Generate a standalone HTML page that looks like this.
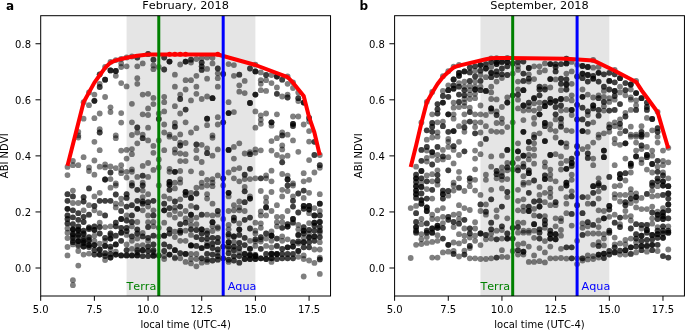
<!DOCTYPE html>
<html><head><meta charset="utf-8"><title>ABI NDVI vs local time</title>
<style>html,body{margin:0;padding:0;background:#fff;overflow:hidden}svg{display:block}text{font-kerning:none;font-family:"DejaVu Sans","Liberation Sans",sans-serif}</style>
</head><body>
<svg width="685" height="330" viewBox="0 0 685 330">
<defs><filter id="soft" x="-5%" y="-5%" width="110%" height="110%"><feGaussianBlur stdDeviation="0.35"/></filter></defs>
<rect width="685" height="330" fill="#fff"/>
<rect x="126.58" y="15.7" width="128.82" height="280.3" fill="#e5e5e5"/>
<g fill="#000" fill-opacity="0.5" filter="url(#soft)">
<circle cx="99.7" cy="74.3" r="2.9"/>
<circle cx="99.7" cy="74.3" r="2.9"/>
<circle cx="99.7" cy="83.8" r="2.9"/>
<circle cx="99.7" cy="87.0" r="2.9"/>
<circle cx="99.7" cy="87.0" r="2.9"/>
<circle cx="105.1" cy="67.0" r="2.9"/>
<circle cx="105.1" cy="79.7" r="2.9"/>
<circle cx="105.1" cy="79.7" r="2.9"/>
<circle cx="105.1" cy="79.7" r="2.9"/>
<circle cx="110.5" cy="61.9" r="2.9"/>
<circle cx="110.5" cy="70.4" r="2.9"/>
<circle cx="110.5" cy="70.4" r="2.9"/>
<circle cx="110.5" cy="70.4" r="2.9"/>
<circle cx="115.8" cy="60.1" r="2.9"/>
<circle cx="115.8" cy="71.0" r="2.9"/>
<circle cx="115.8" cy="71.0" r="2.9"/>
<circle cx="115.8" cy="71.0" r="2.9"/>
<circle cx="115.8" cy="75.8" r="2.9"/>
<circle cx="121.2" cy="58.8" r="2.9"/>
<circle cx="121.2" cy="63.4" r="2.9"/>
<circle cx="121.2" cy="67.0" r="2.9"/>
<circle cx="121.2" cy="83.1" r="2.9"/>
<circle cx="126.6" cy="57.5" r="2.9"/>
<circle cx="126.6" cy="66.3" r="2.9"/>
<circle cx="126.6" cy="86.4" r="2.9"/>
<circle cx="131.9" cy="56.5" r="2.9"/>
<circle cx="137.3" cy="57.5" r="2.9"/>
<circle cx="137.3" cy="57.5" r="2.9"/>
<circle cx="137.3" cy="66.3" r="2.9"/>
<circle cx="137.3" cy="78.2" r="2.9"/>
<circle cx="137.3" cy="83.8" r="2.9"/>
<circle cx="142.7" cy="63.4" r="2.9"/>
<circle cx="148.1" cy="53.9" r="2.9"/>
<circle cx="148.1" cy="53.9" r="2.9"/>
<circle cx="153.4" cy="59.7" r="2.9"/>
<circle cx="153.4" cy="59.7" r="2.9"/>
<circle cx="153.4" cy="65.5" r="2.9"/>
<circle cx="153.4" cy="69.2" r="2.9"/>
<circle cx="158.8" cy="67.0" r="2.9"/>
<circle cx="164.2" cy="57.5" r="2.9"/>
<circle cx="164.2" cy="57.5" r="2.9"/>
<circle cx="164.2" cy="69.5" r="2.9"/>
<circle cx="164.2" cy="69.5" r="2.9"/>
<circle cx="169.5" cy="61.6" r="2.9"/>
<circle cx="169.5" cy="61.6" r="2.9"/>
<circle cx="169.5" cy="61.6" r="2.9"/>
<circle cx="174.9" cy="74.7" r="2.9"/>
<circle cx="174.9" cy="86.7" r="2.9"/>
<circle cx="180.2" cy="64.5" r="2.9"/>
<circle cx="185.6" cy="61.6" r="2.9"/>
<circle cx="185.6" cy="61.6" r="2.9"/>
<circle cx="185.6" cy="61.6" r="2.9"/>
<circle cx="185.6" cy="80.2" r="2.9"/>
<circle cx="191.0" cy="59.7" r="2.9"/>
<circle cx="191.0" cy="59.7" r="2.9"/>
<circle cx="191.0" cy="62.6" r="2.9"/>
<circle cx="191.0" cy="80.2" r="2.9"/>
<circle cx="196.4" cy="59.0" r="2.9"/>
<circle cx="196.4" cy="75.8" r="2.9"/>
<circle cx="196.4" cy="86.7" r="2.9"/>
<circle cx="201.7" cy="58.2" r="2.9"/>
<circle cx="201.7" cy="62.6" r="2.9"/>
<circle cx="201.7" cy="62.6" r="2.9"/>
<circle cx="201.7" cy="66.3" r="2.9"/>
<circle cx="201.7" cy="66.3" r="2.9"/>
<circle cx="201.7" cy="69.9" r="2.9"/>
<circle cx="201.7" cy="69.9" r="2.9"/>
<circle cx="207.1" cy="57.5" r="2.9"/>
<circle cx="207.1" cy="68.9" r="2.9"/>
<circle cx="207.1" cy="78.7" r="2.9"/>
<circle cx="212.5" cy="57.8" r="2.9"/>
<circle cx="212.5" cy="63.4" r="2.9"/>
<circle cx="217.8" cy="68.5" r="2.9"/>
<circle cx="217.8" cy="68.5" r="2.9"/>
<circle cx="217.8" cy="73.3" r="2.9"/>
<circle cx="217.8" cy="78.2" r="2.9"/>
<circle cx="217.8" cy="86.7" r="2.9"/>
<circle cx="223.2" cy="73.9" r="2.9"/>
<circle cx="223.2" cy="73.9" r="2.9"/>
<circle cx="228.6" cy="64.1" r="2.9"/>
<circle cx="233.9" cy="65.1" r="2.9"/>
<circle cx="233.9" cy="75.8" r="2.9"/>
<circle cx="239.3" cy="74.7" r="2.9"/>
<circle cx="239.3" cy="74.7" r="2.9"/>
<circle cx="239.3" cy="85.3" r="2.9"/>
<circle cx="244.7" cy="80.9" r="2.9"/>
<circle cx="250.0" cy="68.5" r="2.9"/>
<circle cx="250.0" cy="68.5" r="2.9"/>
<circle cx="255.4" cy="71.4" r="2.9"/>
<circle cx="255.4" cy="71.4" r="2.9"/>
<circle cx="255.4" cy="71.4" r="2.9"/>
<circle cx="255.4" cy="64.7" r="2.9"/>
<circle cx="260.8" cy="72.4" r="2.9"/>
<circle cx="260.8" cy="80.2" r="2.9"/>
<circle cx="260.8" cy="83.8" r="2.9"/>
<circle cx="266.1" cy="75.0" r="2.9"/>
<circle cx="266.1" cy="75.0" r="2.9"/>
<circle cx="266.1" cy="80.2" r="2.9"/>
<circle cx="271.5" cy="75.0" r="2.9"/>
<circle cx="271.5" cy="83.1" r="2.9"/>
<circle cx="276.9" cy="76.5" r="2.9"/>
<circle cx="276.9" cy="76.5" r="2.9"/>
<circle cx="276.9" cy="76.5" r="2.9"/>
<circle cx="276.9" cy="87.5" r="2.9"/>
<circle cx="282.2" cy="79.7" r="2.9"/>
<circle cx="282.2" cy="79.7" r="2.9"/>
<circle cx="287.6" cy="83.8" r="2.9"/>
<circle cx="287.6" cy="76.5" r="2.9"/>
<circle cx="293.0" cy="82.3" r="2.9"/>
<circle cx="94.4" cy="94.6" r="2.9"/>
<circle cx="94.4" cy="100.8" r="2.9"/>
<circle cx="94.4" cy="100.8" r="2.9"/>
<circle cx="94.4" cy="100.8" r="2.9"/>
<circle cx="89.0" cy="105.2" r="2.9"/>
<circle cx="105.1" cy="97.0" r="2.9"/>
<circle cx="131.9" cy="103.8" r="2.9"/>
<circle cx="110.5" cy="107.3" r="2.9"/>
<circle cx="110.5" cy="112.1" r="2.9"/>
<circle cx="99.7" cy="113.5" r="2.9"/>
<circle cx="121.2" cy="113.1" r="2.9"/>
<circle cx="83.6" cy="118.7" r="2.9"/>
<circle cx="94.4" cy="118.2" r="2.9"/>
<circle cx="121.2" cy="122.6" r="2.9"/>
<circle cx="131.9" cy="122.3" r="2.9"/>
<circle cx="99.7" cy="129.2" r="2.9"/>
<circle cx="99.7" cy="132.5" r="2.9"/>
<circle cx="99.7" cy="132.5" r="2.9"/>
<circle cx="78.3" cy="131.8" r="2.9"/>
<circle cx="78.3" cy="135.4" r="2.9"/>
<circle cx="137.3" cy="127.4" r="2.9"/>
<circle cx="137.3" cy="127.4" r="2.9"/>
<circle cx="137.3" cy="132.5" r="2.9"/>
<circle cx="131.9" cy="135.0" r="2.9"/>
<circle cx="115.8" cy="135.4" r="2.9"/>
<circle cx="83.6" cy="102.2" r="2.9"/>
<circle cx="89.0" cy="92.4" r="2.9"/>
<circle cx="142.7" cy="94.6" r="2.9"/>
<circle cx="142.7" cy="114.3" r="2.9"/>
<circle cx="142.7" cy="134.7" r="2.9"/>
<circle cx="148.1" cy="93.8" r="2.9"/>
<circle cx="148.1" cy="108.4" r="2.9"/>
<circle cx="148.1" cy="115.0" r="2.9"/>
<circle cx="148.1" cy="127.7" r="2.9"/>
<circle cx="153.4" cy="97.9" r="2.9"/>
<circle cx="153.4" cy="104.1" r="2.9"/>
<circle cx="158.8" cy="113.5" r="2.9"/>
<circle cx="158.8" cy="119.0" r="2.9"/>
<circle cx="158.8" cy="119.0" r="2.9"/>
<circle cx="164.2" cy="96.8" r="2.9"/>
<circle cx="164.2" cy="102.2" r="2.9"/>
<circle cx="164.2" cy="111.4" r="2.9"/>
<circle cx="164.2" cy="124.5" r="2.9"/>
<circle cx="164.2" cy="132.5" r="2.9"/>
<circle cx="169.5" cy="134.7" r="2.9"/>
<circle cx="174.9" cy="106.2" r="2.9"/>
<circle cx="174.9" cy="123.0" r="2.9"/>
<circle cx="174.9" cy="126.7" r="2.9"/>
<circle cx="174.9" cy="126.7" r="2.9"/>
<circle cx="180.2" cy="94.6" r="2.9"/>
<circle cx="180.2" cy="99.0" r="2.9"/>
<circle cx="180.2" cy="99.0" r="2.9"/>
<circle cx="180.2" cy="113.5" r="2.9"/>
<circle cx="180.2" cy="134.4" r="2.9"/>
<circle cx="185.6" cy="89.5" r="2.9"/>
<circle cx="185.6" cy="109.6" r="2.9"/>
<circle cx="185.6" cy="109.6" r="2.9"/>
<circle cx="185.6" cy="122.3" r="2.9"/>
<circle cx="191.0" cy="100.4" r="2.9"/>
<circle cx="191.0" cy="132.5" r="2.9"/>
<circle cx="196.4" cy="93.8" r="2.9"/>
<circle cx="196.4" cy="128.2" r="2.9"/>
<circle cx="201.7" cy="99.0" r="2.9"/>
<circle cx="207.1" cy="96.5" r="2.9"/>
<circle cx="207.1" cy="118.7" r="2.9"/>
<circle cx="207.1" cy="118.7" r="2.9"/>
<circle cx="207.1" cy="118.7" r="2.9"/>
<circle cx="207.1" cy="125.2" r="2.9"/>
<circle cx="212.5" cy="98.2" r="2.9"/>
<circle cx="212.5" cy="98.2" r="2.9"/>
<circle cx="212.5" cy="98.2" r="2.9"/>
<circle cx="212.5" cy="135.4" r="2.9"/>
<circle cx="217.8" cy="117.2" r="2.9"/>
<circle cx="217.8" cy="124.5" r="2.9"/>
<circle cx="223.2" cy="122.3" r="2.9"/>
<circle cx="223.2" cy="122.3" r="2.9"/>
<circle cx="228.6" cy="102.2" r="2.9"/>
<circle cx="228.6" cy="113.1" r="2.9"/>
<circle cx="228.6" cy="113.1" r="2.9"/>
<circle cx="228.6" cy="113.1" r="2.9"/>
<circle cx="233.9" cy="112.1" r="2.9"/>
<circle cx="239.3" cy="91.7" r="2.9"/>
<circle cx="244.7" cy="93.1" r="2.9"/>
<circle cx="250.0" cy="103.0" r="2.9"/>
<circle cx="250.0" cy="103.0" r="2.9"/>
<circle cx="250.0" cy="103.0" r="2.9"/>
<circle cx="255.4" cy="94.6" r="2.9"/>
<circle cx="255.4" cy="94.6" r="2.9"/>
<circle cx="255.4" cy="94.6" r="2.9"/>
<circle cx="255.4" cy="111.4" r="2.9"/>
<circle cx="255.4" cy="127.7" r="2.9"/>
<circle cx="260.8" cy="90.2" r="2.9"/>
<circle cx="260.8" cy="115.5" r="2.9"/>
<circle cx="260.8" cy="119.8" r="2.9"/>
<circle cx="260.8" cy="123.8" r="2.9"/>
<circle cx="266.1" cy="90.9" r="2.9"/>
<circle cx="266.1" cy="113.5" r="2.9"/>
<circle cx="271.5" cy="122.3" r="2.9"/>
<circle cx="271.5" cy="122.3" r="2.9"/>
<circle cx="271.5" cy="122.3" r="2.9"/>
<circle cx="271.5" cy="125.7" r="2.9"/>
<circle cx="276.9" cy="93.8" r="2.9"/>
<circle cx="276.9" cy="93.8" r="2.9"/>
<circle cx="276.9" cy="114.3" r="2.9"/>
<circle cx="282.2" cy="96.5" r="2.9"/>
<circle cx="282.2" cy="132.5" r="2.9"/>
<circle cx="282.2" cy="135.4" r="2.9"/>
<circle cx="282.2" cy="135.4" r="2.9"/>
<circle cx="287.6" cy="94.6" r="2.9"/>
<circle cx="287.6" cy="97.5" r="2.9"/>
<circle cx="287.6" cy="97.5" r="2.9"/>
<circle cx="287.6" cy="134.7" r="2.9"/>
<circle cx="293.0" cy="88.0" r="2.9"/>
<circle cx="293.0" cy="116.5" r="2.9"/>
<circle cx="293.0" cy="123.8" r="2.9"/>
<circle cx="293.0" cy="123.8" r="2.9"/>
<circle cx="293.0" cy="123.8" r="2.9"/>
<circle cx="293.0" cy="126.0" r="2.9"/>
<circle cx="293.0" cy="126.0" r="2.9"/>
<circle cx="298.3" cy="92.4" r="2.9"/>
<circle cx="298.3" cy="98.2" r="2.9"/>
<circle cx="298.3" cy="98.2" r="2.9"/>
<circle cx="298.3" cy="101.1" r="2.9"/>
<circle cx="298.3" cy="116.5" r="2.9"/>
<circle cx="303.7" cy="102.6" r="2.9"/>
<circle cx="303.7" cy="102.6" r="2.9"/>
<circle cx="303.7" cy="102.6" r="2.9"/>
<circle cx="303.7" cy="124.5" r="2.9"/>
<circle cx="309.1" cy="117.9" r="2.9"/>
<circle cx="309.1" cy="117.9" r="2.9"/>
<circle cx="309.1" cy="121.6" r="2.9"/>
<circle cx="309.1" cy="131.1" r="2.9"/>
<circle cx="78.3" cy="137.5" r="2.9"/>
<circle cx="94.4" cy="141.8" r="2.9"/>
<circle cx="115.8" cy="138.2" r="2.9"/>
<circle cx="137.3" cy="143.3" r="2.9"/>
<circle cx="99.7" cy="150.2" r="2.9"/>
<circle cx="121.2" cy="150.6" r="2.9"/>
<circle cx="126.6" cy="149.9" r="2.9"/>
<circle cx="131.9" cy="149.1" r="2.9"/>
<circle cx="131.9" cy="154.2" r="2.9"/>
<circle cx="126.6" cy="158.6" r="2.9"/>
<circle cx="83.6" cy="157.2" r="2.9"/>
<circle cx="72.9" cy="160.8" r="2.9"/>
<circle cx="72.9" cy="165.2" r="2.9"/>
<circle cx="94.4" cy="160.5" r="2.9"/>
<circle cx="67.5" cy="166.9" r="2.9"/>
<circle cx="67.5" cy="175.1" r="2.9"/>
<circle cx="78.3" cy="165.2" r="2.9"/>
<circle cx="89.0" cy="167.4" r="2.9"/>
<circle cx="89.0" cy="171.0" r="2.9"/>
<circle cx="99.7" cy="166.7" r="2.9"/>
<circle cx="105.1" cy="164.5" r="2.9"/>
<circle cx="105.1" cy="167.4" r="2.9"/>
<circle cx="110.5" cy="166.4" r="2.9"/>
<circle cx="110.5" cy="172.5" r="2.9"/>
<circle cx="110.5" cy="172.5" r="2.9"/>
<circle cx="110.5" cy="179.1" r="2.9"/>
<circle cx="115.8" cy="168.1" r="2.9"/>
<circle cx="121.2" cy="165.2" r="2.9"/>
<circle cx="121.2" cy="170.3" r="2.9"/>
<circle cx="121.2" cy="173.2" r="2.9"/>
<circle cx="126.6" cy="171.8" r="2.9"/>
<circle cx="126.6" cy="177.6" r="2.9"/>
<circle cx="131.9" cy="169.3" r="2.9"/>
<circle cx="131.9" cy="171.8" r="2.9"/>
<circle cx="94.4" cy="174.7" r="2.9"/>
<circle cx="105.1" cy="179.5" r="2.9"/>
<circle cx="105.1" cy="179.5" r="2.9"/>
<circle cx="105.1" cy="179.5" r="2.9"/>
<circle cx="137.3" cy="176.9" r="2.9"/>
<circle cx="115.8" cy="183.4" r="2.9"/>
<circle cx="131.9" cy="183.0" r="2.9"/>
<circle cx="142.7" cy="138.2" r="2.9"/>
<circle cx="142.7" cy="138.2" r="2.9"/>
<circle cx="142.7" cy="165.9" r="2.9"/>
<circle cx="142.7" cy="175.7" r="2.9"/>
<circle cx="142.7" cy="175.7" r="2.9"/>
<circle cx="142.7" cy="182.7" r="2.9"/>
<circle cx="148.1" cy="140.4" r="2.9"/>
<circle cx="148.1" cy="163.0" r="2.9"/>
<circle cx="148.1" cy="176.9" r="2.9"/>
<circle cx="153.4" cy="145.9" r="2.9"/>
<circle cx="153.4" cy="152.8" r="2.9"/>
<circle cx="153.4" cy="169.9" r="2.9"/>
<circle cx="158.8" cy="140.4" r="2.9"/>
<circle cx="158.8" cy="159.4" r="2.9"/>
<circle cx="158.8" cy="167.4" r="2.9"/>
<circle cx="164.2" cy="150.2" r="2.9"/>
<circle cx="169.5" cy="136.7" r="2.9"/>
<circle cx="169.5" cy="168.8" r="2.9"/>
<circle cx="169.5" cy="171.8" r="2.9"/>
<circle cx="169.5" cy="182.0" r="2.9"/>
<circle cx="169.5" cy="182.0" r="2.9"/>
<circle cx="169.5" cy="182.0" r="2.9"/>
<circle cx="174.9" cy="138.2" r="2.9"/>
<circle cx="174.9" cy="149.4" r="2.9"/>
<circle cx="174.9" cy="152.8" r="2.9"/>
<circle cx="174.9" cy="171.8" r="2.9"/>
<circle cx="174.9" cy="171.8" r="2.9"/>
<circle cx="174.9" cy="171.8" r="2.9"/>
<circle cx="174.9" cy="182.7" r="2.9"/>
<circle cx="180.2" cy="142.6" r="2.9"/>
<circle cx="180.2" cy="145.5" r="2.9"/>
<circle cx="180.2" cy="145.5" r="2.9"/>
<circle cx="180.2" cy="153.5" r="2.9"/>
<circle cx="180.2" cy="161.1" r="2.9"/>
<circle cx="180.2" cy="171.0" r="2.9"/>
<circle cx="180.2" cy="179.1" r="2.9"/>
<circle cx="180.2" cy="182.7" r="2.9"/>
<circle cx="185.6" cy="143.0" r="2.9"/>
<circle cx="185.6" cy="154.2" r="2.9"/>
<circle cx="185.6" cy="161.1" r="2.9"/>
<circle cx="191.0" cy="171.3" r="2.9"/>
<circle cx="196.4" cy="144.5" r="2.9"/>
<circle cx="196.4" cy="144.5" r="2.9"/>
<circle cx="196.4" cy="150.2" r="2.9"/>
<circle cx="196.4" cy="158.2" r="2.9"/>
<circle cx="201.7" cy="144.8" r="2.9"/>
<circle cx="201.7" cy="162.0" r="2.9"/>
<circle cx="201.7" cy="173.2" r="2.9"/>
<circle cx="201.7" cy="182.7" r="2.9"/>
<circle cx="207.1" cy="148.4" r="2.9"/>
<circle cx="207.1" cy="153.2" r="2.9"/>
<circle cx="207.1" cy="153.2" r="2.9"/>
<circle cx="207.1" cy="179.8" r="2.9"/>
<circle cx="212.5" cy="137.8" r="2.9"/>
<circle cx="212.5" cy="155.7" r="2.9"/>
<circle cx="212.5" cy="179.1" r="2.9"/>
<circle cx="212.5" cy="182.7" r="2.9"/>
<circle cx="217.8" cy="149.4" r="2.9"/>
<circle cx="217.8" cy="175.4" r="2.9"/>
<circle cx="223.2" cy="178.3" r="2.9"/>
<circle cx="223.2" cy="178.3" r="2.9"/>
<circle cx="228.6" cy="149.9" r="2.9"/>
<circle cx="228.6" cy="149.9" r="2.9"/>
<circle cx="228.6" cy="149.9" r="2.9"/>
<circle cx="228.6" cy="172.5" r="2.9"/>
<circle cx="233.9" cy="146.9" r="2.9"/>
<circle cx="233.9" cy="158.6" r="2.9"/>
<circle cx="233.9" cy="169.3" r="2.9"/>
<circle cx="233.9" cy="178.3" r="2.9"/>
<circle cx="239.3" cy="143.3" r="2.9"/>
<circle cx="239.3" cy="168.1" r="2.9"/>
<circle cx="239.3" cy="181.3" r="2.9"/>
<circle cx="244.7" cy="153.5" r="2.9"/>
<circle cx="244.7" cy="174.7" r="2.9"/>
<circle cx="244.7" cy="174.7" r="2.9"/>
<circle cx="244.7" cy="179.1" r="2.9"/>
<circle cx="250.0" cy="152.1" r="2.9"/>
<circle cx="250.0" cy="154.2" r="2.9"/>
<circle cx="250.0" cy="154.2" r="2.9"/>
<circle cx="250.0" cy="168.8" r="2.9"/>
<circle cx="250.0" cy="168.8" r="2.9"/>
<circle cx="250.0" cy="179.1" r="2.9"/>
<circle cx="255.4" cy="149.4" r="2.9"/>
<circle cx="255.4" cy="152.8" r="2.9"/>
<circle cx="255.4" cy="178.3" r="2.9"/>
<circle cx="260.8" cy="150.3" r="2.9"/>
<circle cx="260.8" cy="178.3" r="2.9"/>
<circle cx="260.8" cy="178.3" r="2.9"/>
<circle cx="266.1" cy="175.4" r="2.9"/>
<circle cx="266.1" cy="178.3" r="2.9"/>
<circle cx="271.5" cy="141.1" r="2.9"/>
<circle cx="271.5" cy="150.6" r="2.9"/>
<circle cx="271.5" cy="170.7" r="2.9"/>
<circle cx="271.5" cy="181.3" r="2.9"/>
<circle cx="276.9" cy="138.2" r="2.9"/>
<circle cx="276.9" cy="155.0" r="2.9"/>
<circle cx="282.2" cy="145.5" r="2.9"/>
<circle cx="282.2" cy="149.4" r="2.9"/>
<circle cx="282.2" cy="157.2" r="2.9"/>
<circle cx="282.2" cy="162.3" r="2.9"/>
<circle cx="282.2" cy="162.3" r="2.9"/>
<circle cx="282.2" cy="174.0" r="2.9"/>
<circle cx="287.6" cy="155.7" r="2.9"/>
<circle cx="287.6" cy="175.7" r="2.9"/>
<circle cx="287.6" cy="179.5" r="2.9"/>
<circle cx="287.6" cy="179.5" r="2.9"/>
<circle cx="287.6" cy="179.5" r="2.9"/>
<circle cx="293.0" cy="140.4" r="2.9"/>
<circle cx="293.0" cy="183.4" r="2.9"/>
<circle cx="298.3" cy="151.8" r="2.9"/>
<circle cx="303.7" cy="173.2" r="2.9"/>
<circle cx="303.7" cy="181.3" r="2.9"/>
<circle cx="309.1" cy="141.6" r="2.9"/>
<circle cx="309.1" cy="160.1" r="2.9"/>
<circle cx="309.1" cy="179.8" r="2.9"/>
<circle cx="314.4" cy="141.8" r="2.9"/>
<circle cx="314.4" cy="141.8" r="2.9"/>
<circle cx="314.4" cy="155.0" r="2.9"/>
<circle cx="314.4" cy="155.0" r="2.9"/>
<circle cx="314.4" cy="172.5" r="2.9"/>
<circle cx="319.8" cy="155.0" r="2.9"/>
<circle cx="319.8" cy="165.2" r="2.9"/>
<circle cx="319.8" cy="165.2" r="2.9"/>
<circle cx="319.8" cy="167.8" r="2.9"/>
<circle cx="67.5" cy="194.2" r="2.9"/>
<circle cx="67.5" cy="194.2" r="2.9"/>
<circle cx="67.5" cy="200.8" r="2.9"/>
<circle cx="67.5" cy="200.8" r="2.9"/>
<circle cx="67.5" cy="208.8" r="2.9"/>
<circle cx="67.5" cy="208.8" r="2.9"/>
<circle cx="67.5" cy="208.8" r="2.9"/>
<circle cx="67.5" cy="215.4" r="2.9"/>
<circle cx="67.5" cy="215.4" r="2.9"/>
<circle cx="67.5" cy="219.0" r="2.9"/>
<circle cx="67.5" cy="219.0" r="2.9"/>
<circle cx="67.5" cy="223.4" r="2.9"/>
<circle cx="67.5" cy="223.4" r="2.9"/>
<circle cx="67.5" cy="228.5" r="2.9"/>
<circle cx="72.9" cy="190.6" r="2.9"/>
<circle cx="72.9" cy="196.4" r="2.9"/>
<circle cx="72.9" cy="196.4" r="2.9"/>
<circle cx="72.9" cy="203.0" r="2.9"/>
<circle cx="72.9" cy="210.3" r="2.9"/>
<circle cx="72.9" cy="210.3" r="2.9"/>
<circle cx="72.9" cy="217.3" r="2.9"/>
<circle cx="72.9" cy="217.3" r="2.9"/>
<circle cx="72.9" cy="224.2" r="2.9"/>
<circle cx="72.9" cy="224.2" r="2.9"/>
<circle cx="72.9" cy="229.3" r="2.9"/>
<circle cx="72.9" cy="229.3" r="2.9"/>
<circle cx="78.3" cy="203.0" r="2.9"/>
<circle cx="78.3" cy="213.2" r="2.9"/>
<circle cx="78.3" cy="213.2" r="2.9"/>
<circle cx="78.3" cy="219.8" r="2.9"/>
<circle cx="78.3" cy="219.8" r="2.9"/>
<circle cx="78.3" cy="226.3" r="2.9"/>
<circle cx="78.3" cy="226.3" r="2.9"/>
<circle cx="78.3" cy="230.7" r="2.9"/>
<circle cx="78.3" cy="230.7" r="2.9"/>
<circle cx="83.6" cy="197.1" r="2.9"/>
<circle cx="83.6" cy="197.1" r="2.9"/>
<circle cx="83.6" cy="201.5" r="2.9"/>
<circle cx="83.6" cy="201.5" r="2.9"/>
<circle cx="83.6" cy="210.3" r="2.9"/>
<circle cx="83.6" cy="216.8" r="2.9"/>
<circle cx="83.6" cy="216.8" r="2.9"/>
<circle cx="83.6" cy="222.0" r="2.9"/>
<circle cx="83.6" cy="222.0" r="2.9"/>
<circle cx="83.6" cy="230.7" r="2.9"/>
<circle cx="83.6" cy="230.7" r="2.9"/>
<circle cx="89.0" cy="188.4" r="2.9"/>
<circle cx="89.0" cy="188.4" r="2.9"/>
<circle cx="89.0" cy="205.2" r="2.9"/>
<circle cx="89.0" cy="214.7" r="2.9"/>
<circle cx="89.0" cy="214.7" r="2.9"/>
<circle cx="89.0" cy="227.5" r="2.9"/>
<circle cx="89.0" cy="227.5" r="2.9"/>
<circle cx="94.4" cy="196.4" r="2.9"/>
<circle cx="94.4" cy="205.9" r="2.9"/>
<circle cx="94.4" cy="205.9" r="2.9"/>
<circle cx="94.4" cy="210.3" r="2.9"/>
<circle cx="94.4" cy="226.3" r="2.9"/>
<circle cx="94.4" cy="226.3" r="2.9"/>
<circle cx="94.4" cy="230.0" r="2.9"/>
<circle cx="94.4" cy="230.0" r="2.9"/>
<circle cx="94.4" cy="230.0" r="2.9"/>
<circle cx="99.7" cy="192.8" r="2.9"/>
<circle cx="99.7" cy="200.8" r="2.9"/>
<circle cx="99.7" cy="200.8" r="2.9"/>
<circle cx="99.7" cy="213.2" r="2.9"/>
<circle cx="99.7" cy="222.7" r="2.9"/>
<circle cx="99.7" cy="227.1" r="2.9"/>
<circle cx="99.7" cy="227.1" r="2.9"/>
<circle cx="105.1" cy="200.8" r="2.9"/>
<circle cx="105.1" cy="200.8" r="2.9"/>
<circle cx="105.1" cy="215.4" r="2.9"/>
<circle cx="105.1" cy="215.4" r="2.9"/>
<circle cx="105.1" cy="227.1" r="2.9"/>
<circle cx="110.5" cy="187.7" r="2.9"/>
<circle cx="110.5" cy="200.8" r="2.9"/>
<circle cx="110.5" cy="200.8" r="2.9"/>
<circle cx="110.5" cy="226.3" r="2.9"/>
<circle cx="115.8" cy="185.5" r="2.9"/>
<circle cx="115.8" cy="194.5" r="2.9"/>
<circle cx="115.8" cy="194.5" r="2.9"/>
<circle cx="115.8" cy="203.7" r="2.9"/>
<circle cx="115.8" cy="207.4" r="2.9"/>
<circle cx="115.8" cy="222.7" r="2.9"/>
<circle cx="115.8" cy="222.7" r="2.9"/>
<circle cx="115.8" cy="226.3" r="2.9"/>
<circle cx="115.8" cy="226.3" r="2.9"/>
<circle cx="121.2" cy="198.6" r="2.9"/>
<circle cx="121.2" cy="203.7" r="2.9"/>
<circle cx="121.2" cy="211.0" r="2.9"/>
<circle cx="121.2" cy="211.0" r="2.9"/>
<circle cx="121.2" cy="219.0" r="2.9"/>
<circle cx="121.2" cy="219.0" r="2.9"/>
<circle cx="121.2" cy="219.0" r="2.9"/>
<circle cx="121.2" cy="227.8" r="2.9"/>
<circle cx="121.2" cy="227.8" r="2.9"/>
<circle cx="126.6" cy="194.2" r="2.9"/>
<circle cx="126.6" cy="194.2" r="2.9"/>
<circle cx="126.6" cy="197.9" r="2.9"/>
<circle cx="126.6" cy="197.9" r="2.9"/>
<circle cx="126.6" cy="206.6" r="2.9"/>
<circle cx="126.6" cy="206.6" r="2.9"/>
<circle cx="126.6" cy="215.4" r="2.9"/>
<circle cx="126.6" cy="220.5" r="2.9"/>
<circle cx="126.6" cy="220.5" r="2.9"/>
<circle cx="126.6" cy="227.8" r="2.9"/>
<circle cx="126.6" cy="227.8" r="2.9"/>
<circle cx="131.9" cy="185.5" r="2.9"/>
<circle cx="131.9" cy="185.5" r="2.9"/>
<circle cx="131.9" cy="205.2" r="2.9"/>
<circle cx="131.9" cy="205.2" r="2.9"/>
<circle cx="131.9" cy="215.4" r="2.9"/>
<circle cx="131.9" cy="215.4" r="2.9"/>
<circle cx="131.9" cy="222.0" r="2.9"/>
<circle cx="131.9" cy="222.0" r="2.9"/>
<circle cx="131.9" cy="226.3" r="2.9"/>
<circle cx="137.3" cy="189.8" r="2.9"/>
<circle cx="137.3" cy="189.8" r="2.9"/>
<circle cx="137.3" cy="200.8" r="2.9"/>
<circle cx="137.3" cy="200.8" r="2.9"/>
<circle cx="137.3" cy="208.8" r="2.9"/>
<circle cx="137.3" cy="208.8" r="2.9"/>
<circle cx="137.3" cy="208.8" r="2.9"/>
<circle cx="137.3" cy="222.0" r="2.9"/>
<circle cx="137.3" cy="229.3" r="2.9"/>
<circle cx="142.7" cy="185.5" r="2.9"/>
<circle cx="142.7" cy="185.5" r="2.9"/>
<circle cx="142.7" cy="190.6" r="2.9"/>
<circle cx="142.7" cy="197.1" r="2.9"/>
<circle cx="142.7" cy="201.5" r="2.9"/>
<circle cx="142.7" cy="201.5" r="2.9"/>
<circle cx="142.7" cy="203.7" r="2.9"/>
<circle cx="142.7" cy="203.7" r="2.9"/>
<circle cx="142.7" cy="210.3" r="2.9"/>
<circle cx="148.1" cy="194.2" r="2.9"/>
<circle cx="148.1" cy="202.2" r="2.9"/>
<circle cx="148.1" cy="202.2" r="2.9"/>
<circle cx="148.1" cy="206.6" r="2.9"/>
<circle cx="148.1" cy="215.4" r="2.9"/>
<circle cx="148.1" cy="222.2" r="2.9"/>
<circle cx="148.1" cy="227.1" r="2.9"/>
<circle cx="148.1" cy="227.1" r="2.9"/>
<circle cx="153.4" cy="200.8" r="2.9"/>
<circle cx="153.4" cy="200.8" r="2.9"/>
<circle cx="153.4" cy="210.3" r="2.9"/>
<circle cx="153.4" cy="215.4" r="2.9"/>
<circle cx="153.4" cy="215.4" r="2.9"/>
<circle cx="153.4" cy="222.0" r="2.9"/>
<circle cx="153.4" cy="226.3" r="2.9"/>
<circle cx="158.8" cy="185.5" r="2.9"/>
<circle cx="158.8" cy="227.8" r="2.9"/>
<circle cx="164.2" cy="196.4" r="2.9"/>
<circle cx="164.2" cy="203.7" r="2.9"/>
<circle cx="164.2" cy="203.7" r="2.9"/>
<circle cx="164.2" cy="210.3" r="2.9"/>
<circle cx="164.2" cy="210.3" r="2.9"/>
<circle cx="164.2" cy="210.3" r="2.9"/>
<circle cx="164.2" cy="222.7" r="2.9"/>
<circle cx="169.5" cy="184.7" r="2.9"/>
<circle cx="169.5" cy="184.7" r="2.9"/>
<circle cx="169.5" cy="184.7" r="2.9"/>
<circle cx="169.5" cy="189.8" r="2.9"/>
<circle cx="169.5" cy="189.8" r="2.9"/>
<circle cx="169.5" cy="198.6" r="2.9"/>
<circle cx="169.5" cy="208.1" r="2.9"/>
<circle cx="169.5" cy="208.1" r="2.9"/>
<circle cx="169.5" cy="214.7" r="2.9"/>
<circle cx="169.5" cy="229.3" r="2.9"/>
<circle cx="169.5" cy="229.3" r="2.9"/>
<circle cx="174.9" cy="188.4" r="2.9"/>
<circle cx="174.9" cy="201.5" r="2.9"/>
<circle cx="174.9" cy="201.5" r="2.9"/>
<circle cx="174.9" cy="207.4" r="2.9"/>
<circle cx="174.9" cy="211.0" r="2.9"/>
<circle cx="174.9" cy="217.6" r="2.9"/>
<circle cx="180.2" cy="199.3" r="2.9"/>
<circle cx="180.2" cy="206.6" r="2.9"/>
<circle cx="180.2" cy="206.6" r="2.9"/>
<circle cx="180.2" cy="213.9" r="2.9"/>
<circle cx="180.2" cy="224.2" r="2.9"/>
<circle cx="180.2" cy="224.2" r="2.9"/>
<circle cx="180.2" cy="230.7" r="2.9"/>
<circle cx="180.2" cy="230.7" r="2.9"/>
<circle cx="185.6" cy="192.0" r="2.9"/>
<circle cx="185.6" cy="192.0" r="2.9"/>
<circle cx="185.6" cy="192.0" r="2.9"/>
<circle cx="185.6" cy="194.9" r="2.9"/>
<circle cx="185.6" cy="194.9" r="2.9"/>
<circle cx="185.6" cy="211.0" r="2.9"/>
<circle cx="185.6" cy="218.3" r="2.9"/>
<circle cx="185.6" cy="222.7" r="2.9"/>
<circle cx="185.6" cy="222.7" r="2.9"/>
<circle cx="185.6" cy="230.7" r="2.9"/>
<circle cx="191.0" cy="192.8" r="2.9"/>
<circle cx="191.0" cy="197.9" r="2.9"/>
<circle cx="191.0" cy="197.9" r="2.9"/>
<circle cx="191.0" cy="197.9" r="2.9"/>
<circle cx="191.0" cy="205.9" r="2.9"/>
<circle cx="191.0" cy="214.7" r="2.9"/>
<circle cx="191.0" cy="214.7" r="2.9"/>
<circle cx="191.0" cy="214.7" r="2.9"/>
<circle cx="191.0" cy="219.8" r="2.9"/>
<circle cx="191.0" cy="224.9" r="2.9"/>
<circle cx="191.0" cy="229.3" r="2.9"/>
<circle cx="191.0" cy="229.3" r="2.9"/>
<circle cx="196.4" cy="187.7" r="2.9"/>
<circle cx="196.4" cy="193.5" r="2.9"/>
<circle cx="196.4" cy="193.5" r="2.9"/>
<circle cx="196.4" cy="207.4" r="2.9"/>
<circle cx="196.4" cy="207.4" r="2.9"/>
<circle cx="196.4" cy="217.6" r="2.9"/>
<circle cx="196.4" cy="224.2" r="2.9"/>
<circle cx="196.4" cy="230.0" r="2.9"/>
<circle cx="196.4" cy="230.0" r="2.9"/>
<circle cx="201.7" cy="186.9" r="2.9"/>
<circle cx="201.7" cy="214.7" r="2.9"/>
<circle cx="201.7" cy="214.7" r="2.9"/>
<circle cx="201.7" cy="229.3" r="2.9"/>
<circle cx="201.7" cy="229.3" r="2.9"/>
<circle cx="201.7" cy="229.3" r="2.9"/>
<circle cx="207.1" cy="185.5" r="2.9"/>
<circle cx="207.1" cy="194.2" r="2.9"/>
<circle cx="207.1" cy="198.6" r="2.9"/>
<circle cx="207.1" cy="214.7" r="2.9"/>
<circle cx="207.1" cy="230.7" r="2.9"/>
<circle cx="212.5" cy="186.2" r="2.9"/>
<circle cx="212.5" cy="203.7" r="2.9"/>
<circle cx="212.5" cy="215.4" r="2.9"/>
<circle cx="212.5" cy="222.2" r="2.9"/>
<circle cx="212.5" cy="222.2" r="2.9"/>
<circle cx="212.5" cy="222.2" r="2.9"/>
<circle cx="212.5" cy="226.3" r="2.9"/>
<circle cx="217.8" cy="211.0" r="2.9"/>
<circle cx="217.8" cy="211.0" r="2.9"/>
<circle cx="217.8" cy="214.7" r="2.9"/>
<circle cx="217.8" cy="227.1" r="2.9"/>
<circle cx="223.2" cy="185.5" r="2.9"/>
<circle cx="223.2" cy="219.0" r="2.9"/>
<circle cx="228.6" cy="192.8" r="2.9"/>
<circle cx="228.6" cy="192.8" r="2.9"/>
<circle cx="228.6" cy="192.8" r="2.9"/>
<circle cx="228.6" cy="196.4" r="2.9"/>
<circle cx="228.6" cy="211.0" r="2.9"/>
<circle cx="228.6" cy="224.9" r="2.9"/>
<circle cx="228.6" cy="229.3" r="2.9"/>
<circle cx="233.9" cy="205.2" r="2.9"/>
<circle cx="233.9" cy="210.3" r="2.9"/>
<circle cx="233.9" cy="217.6" r="2.9"/>
<circle cx="233.9" cy="217.6" r="2.9"/>
<circle cx="233.9" cy="220.5" r="2.9"/>
<circle cx="233.9" cy="220.5" r="2.9"/>
<circle cx="239.3" cy="201.5" r="2.9"/>
<circle cx="239.3" cy="207.4" r="2.9"/>
<circle cx="239.3" cy="210.3" r="2.9"/>
<circle cx="239.3" cy="223.4" r="2.9"/>
<circle cx="239.3" cy="229.3" r="2.9"/>
<circle cx="244.7" cy="186.9" r="2.9"/>
<circle cx="244.7" cy="191.3" r="2.9"/>
<circle cx="244.7" cy="191.3" r="2.9"/>
<circle cx="244.7" cy="202.2" r="2.9"/>
<circle cx="244.7" cy="202.2" r="2.9"/>
<circle cx="244.7" cy="211.0" r="2.9"/>
<circle cx="244.7" cy="219.8" r="2.9"/>
<circle cx="244.7" cy="219.8" r="2.9"/>
<circle cx="250.0" cy="196.4" r="2.9"/>
<circle cx="250.0" cy="198.6" r="2.9"/>
<circle cx="250.0" cy="198.6" r="2.9"/>
<circle cx="250.0" cy="198.6" r="2.9"/>
<circle cx="250.0" cy="217.6" r="2.9"/>
<circle cx="250.0" cy="217.6" r="2.9"/>
<circle cx="250.0" cy="228.5" r="2.9"/>
<circle cx="250.0" cy="228.5" r="2.9"/>
<circle cx="255.4" cy="222.7" r="2.9"/>
<circle cx="255.4" cy="230.7" r="2.9"/>
<circle cx="260.8" cy="191.0" r="2.9"/>
<circle cx="260.8" cy="211.4" r="2.9"/>
<circle cx="260.8" cy="215.4" r="2.9"/>
<circle cx="260.8" cy="223.4" r="2.9"/>
<circle cx="260.8" cy="227.8" r="2.9"/>
<circle cx="266.1" cy="197.4" r="2.9"/>
<circle cx="266.1" cy="202.2" r="2.9"/>
<circle cx="266.1" cy="207.4" r="2.9"/>
<circle cx="266.1" cy="207.4" r="2.9"/>
<circle cx="266.1" cy="207.4" r="2.9"/>
<circle cx="266.1" cy="215.4" r="2.9"/>
<circle cx="271.5" cy="192.0" r="2.9"/>
<circle cx="271.5" cy="211.0" r="2.9"/>
<circle cx="271.5" cy="231.4" r="2.9"/>
<circle cx="276.9" cy="205.2" r="2.9"/>
<circle cx="276.9" cy="216.8" r="2.9"/>
<circle cx="276.9" cy="222.2" r="2.9"/>
<circle cx="276.9" cy="226.3" r="2.9"/>
<circle cx="282.2" cy="189.8" r="2.9"/>
<circle cx="282.2" cy="196.4" r="2.9"/>
<circle cx="282.2" cy="216.8" r="2.9"/>
<circle cx="282.2" cy="222.2" r="2.9"/>
<circle cx="282.2" cy="227.8" r="2.9"/>
<circle cx="282.2" cy="227.8" r="2.9"/>
<circle cx="287.6" cy="185.5" r="2.9"/>
<circle cx="287.6" cy="185.5" r="2.9"/>
<circle cx="287.6" cy="191.0" r="2.9"/>
<circle cx="287.6" cy="211.0" r="2.9"/>
<circle cx="287.6" cy="224.2" r="2.9"/>
<circle cx="287.6" cy="224.2" r="2.9"/>
<circle cx="287.6" cy="226.6" r="2.9"/>
<circle cx="287.6" cy="226.6" r="2.9"/>
<circle cx="287.6" cy="226.6" r="2.9"/>
<circle cx="293.0" cy="185.5" r="2.9"/>
<circle cx="293.0" cy="196.4" r="2.9"/>
<circle cx="293.0" cy="200.8" r="2.9"/>
<circle cx="293.0" cy="200.8" r="2.9"/>
<circle cx="293.0" cy="206.6" r="2.9"/>
<circle cx="293.0" cy="206.6" r="2.9"/>
<circle cx="293.0" cy="219.0" r="2.9"/>
<circle cx="293.0" cy="219.0" r="2.9"/>
<circle cx="293.0" cy="219.0" r="2.9"/>
<circle cx="293.0" cy="222.7" r="2.9"/>
<circle cx="293.0" cy="222.7" r="2.9"/>
<circle cx="298.3" cy="193.5" r="2.9"/>
<circle cx="298.3" cy="193.5" r="2.9"/>
<circle cx="298.3" cy="212.5" r="2.9"/>
<circle cx="298.3" cy="212.5" r="2.9"/>
<circle cx="298.3" cy="224.9" r="2.9"/>
<circle cx="298.3" cy="229.3" r="2.9"/>
<circle cx="303.7" cy="190.6" r="2.9"/>
<circle cx="303.7" cy="190.6" r="2.9"/>
<circle cx="303.7" cy="197.9" r="2.9"/>
<circle cx="303.7" cy="205.9" r="2.9"/>
<circle cx="303.7" cy="205.9" r="2.9"/>
<circle cx="303.7" cy="205.9" r="2.9"/>
<circle cx="303.7" cy="208.8" r="2.9"/>
<circle cx="303.7" cy="208.8" r="2.9"/>
<circle cx="303.7" cy="227.1" r="2.9"/>
<circle cx="303.7" cy="227.1" r="2.9"/>
<circle cx="303.7" cy="230.7" r="2.9"/>
<circle cx="303.7" cy="230.7" r="2.9"/>
<circle cx="303.7" cy="230.7" r="2.9"/>
<circle cx="309.1" cy="192.8" r="2.9"/>
<circle cx="309.1" cy="205.9" r="2.9"/>
<circle cx="309.1" cy="205.9" r="2.9"/>
<circle cx="309.1" cy="205.9" r="2.9"/>
<circle cx="309.1" cy="209.6" r="2.9"/>
<circle cx="309.1" cy="209.6" r="2.9"/>
<circle cx="309.1" cy="209.6" r="2.9"/>
<circle cx="309.1" cy="213.2" r="2.9"/>
<circle cx="309.1" cy="223.1" r="2.9"/>
<circle cx="309.1" cy="230.0" r="2.9"/>
<circle cx="309.1" cy="230.0" r="2.9"/>
<circle cx="314.4" cy="208.1" r="2.9"/>
<circle cx="314.4" cy="215.4" r="2.9"/>
<circle cx="314.4" cy="215.4" r="2.9"/>
<circle cx="314.4" cy="215.4" r="2.9"/>
<circle cx="314.4" cy="222.7" r="2.9"/>
<circle cx="314.4" cy="222.7" r="2.9"/>
<circle cx="314.4" cy="222.7" r="2.9"/>
<circle cx="314.4" cy="225.6" r="2.9"/>
<circle cx="314.4" cy="225.6" r="2.9"/>
<circle cx="314.4" cy="230.7" r="2.9"/>
<circle cx="314.4" cy="230.7" r="2.9"/>
<circle cx="319.8" cy="194.2" r="2.9"/>
<circle cx="319.8" cy="203.7" r="2.9"/>
<circle cx="319.8" cy="203.7" r="2.9"/>
<circle cx="319.8" cy="203.7" r="2.9"/>
<circle cx="319.8" cy="211.0" r="2.9"/>
<circle cx="319.8" cy="215.4" r="2.9"/>
<circle cx="319.8" cy="215.4" r="2.9"/>
<circle cx="319.8" cy="222.0" r="2.9"/>
<circle cx="319.8" cy="222.0" r="2.9"/>
<circle cx="319.8" cy="222.0" r="2.9"/>
<circle cx="319.8" cy="227.1" r="2.9"/>
<circle cx="319.8" cy="227.1" r="2.9"/>
<circle cx="319.8" cy="230.7" r="2.9"/>
<circle cx="319.8" cy="230.7" r="2.9"/>
<circle cx="67.5" cy="232.7" r="2.9"/>
<circle cx="67.5" cy="238.1" r="2.9"/>
<circle cx="67.5" cy="247.0" r="2.9"/>
<circle cx="67.5" cy="255.4" r="2.9"/>
<circle cx="72.9" cy="234.2" r="2.9"/>
<circle cx="72.9" cy="234.2" r="2.9"/>
<circle cx="72.9" cy="234.2" r="2.9"/>
<circle cx="72.9" cy="237.8" r="2.9"/>
<circle cx="72.9" cy="237.8" r="2.9"/>
<circle cx="72.9" cy="242.2" r="2.9"/>
<circle cx="72.9" cy="242.2" r="2.9"/>
<circle cx="72.9" cy="244.4" r="2.9"/>
<circle cx="78.3" cy="234.9" r="2.9"/>
<circle cx="78.3" cy="234.9" r="2.9"/>
<circle cx="78.3" cy="234.9" r="2.9"/>
<circle cx="78.3" cy="241.1" r="2.9"/>
<circle cx="78.3" cy="241.1" r="2.9"/>
<circle cx="78.3" cy="241.1" r="2.9"/>
<circle cx="78.3" cy="241.1" r="2.9"/>
<circle cx="78.3" cy="245.9" r="2.9"/>
<circle cx="78.3" cy="251.0" r="2.9"/>
<circle cx="78.3" cy="265.6" r="2.9"/>
<circle cx="83.6" cy="233.5" r="2.9"/>
<circle cx="83.6" cy="233.5" r="2.9"/>
<circle cx="83.6" cy="238.6" r="2.9"/>
<circle cx="83.6" cy="238.6" r="2.9"/>
<circle cx="83.6" cy="242.9" r="2.9"/>
<circle cx="83.6" cy="242.9" r="2.9"/>
<circle cx="83.6" cy="242.9" r="2.9"/>
<circle cx="83.6" cy="246.6" r="2.9"/>
<circle cx="83.6" cy="246.6" r="2.9"/>
<circle cx="83.6" cy="246.6" r="2.9"/>
<circle cx="83.6" cy="254.6" r="2.9"/>
<circle cx="89.0" cy="237.1" r="2.9"/>
<circle cx="89.0" cy="237.1" r="2.9"/>
<circle cx="89.0" cy="240.0" r="2.9"/>
<circle cx="89.0" cy="240.0" r="2.9"/>
<circle cx="89.0" cy="245.1" r="2.9"/>
<circle cx="89.0" cy="245.1" r="2.9"/>
<circle cx="89.0" cy="245.1" r="2.9"/>
<circle cx="89.0" cy="253.6" r="2.9"/>
<circle cx="94.4" cy="235.7" r="2.9"/>
<circle cx="94.4" cy="240.8" r="2.9"/>
<circle cx="94.4" cy="245.1" r="2.9"/>
<circle cx="94.4" cy="245.1" r="2.9"/>
<circle cx="94.4" cy="245.1" r="2.9"/>
<circle cx="94.4" cy="250.2" r="2.9"/>
<circle cx="94.4" cy="250.2" r="2.9"/>
<circle cx="94.4" cy="254.6" r="2.9"/>
<circle cx="94.4" cy="254.6" r="2.9"/>
<circle cx="99.7" cy="233.5" r="2.9"/>
<circle cx="99.7" cy="233.5" r="2.9"/>
<circle cx="99.7" cy="243.7" r="2.9"/>
<circle cx="99.7" cy="249.5" r="2.9"/>
<circle cx="99.7" cy="249.5" r="2.9"/>
<circle cx="99.7" cy="249.5" r="2.9"/>
<circle cx="99.7" cy="254.6" r="2.9"/>
<circle cx="99.7" cy="254.6" r="2.9"/>
<circle cx="99.7" cy="254.6" r="2.9"/>
<circle cx="105.1" cy="237.8" r="2.9"/>
<circle cx="105.1" cy="237.8" r="2.9"/>
<circle cx="105.1" cy="245.9" r="2.9"/>
<circle cx="105.1" cy="245.9" r="2.9"/>
<circle cx="105.1" cy="245.9" r="2.9"/>
<circle cx="105.1" cy="253.2" r="2.9"/>
<circle cx="105.1" cy="253.2" r="2.9"/>
<circle cx="105.1" cy="256.1" r="2.9"/>
<circle cx="105.1" cy="256.1" r="2.9"/>
<circle cx="105.1" cy="260.0" r="2.9"/>
<circle cx="110.5" cy="233.5" r="2.9"/>
<circle cx="110.5" cy="233.5" r="2.9"/>
<circle cx="110.5" cy="238.6" r="2.9"/>
<circle cx="110.5" cy="238.6" r="2.9"/>
<circle cx="110.5" cy="238.6" r="2.9"/>
<circle cx="110.5" cy="246.6" r="2.9"/>
<circle cx="110.5" cy="246.6" r="2.9"/>
<circle cx="110.5" cy="253.9" r="2.9"/>
<circle cx="110.5" cy="253.9" r="2.9"/>
<circle cx="110.5" cy="257.6" r="2.9"/>
<circle cx="110.5" cy="257.6" r="2.9"/>
<circle cx="110.5" cy="257.6" r="2.9"/>
<circle cx="115.8" cy="235.7" r="2.9"/>
<circle cx="115.8" cy="235.7" r="2.9"/>
<circle cx="115.8" cy="244.4" r="2.9"/>
<circle cx="115.8" cy="244.4" r="2.9"/>
<circle cx="115.8" cy="244.4" r="2.9"/>
<circle cx="115.8" cy="251.7" r="2.9"/>
<circle cx="115.8" cy="254.6" r="2.9"/>
<circle cx="115.8" cy="254.6" r="2.9"/>
<circle cx="115.8" cy="254.6" r="2.9"/>
<circle cx="121.2" cy="232.7" r="2.9"/>
<circle cx="121.2" cy="232.7" r="2.9"/>
<circle cx="121.2" cy="232.7" r="2.9"/>
<circle cx="121.2" cy="240.8" r="2.9"/>
<circle cx="121.2" cy="240.8" r="2.9"/>
<circle cx="121.2" cy="255.4" r="2.9"/>
<circle cx="121.2" cy="255.4" r="2.9"/>
<circle cx="121.2" cy="255.4" r="2.9"/>
<circle cx="126.6" cy="234.9" r="2.9"/>
<circle cx="126.6" cy="244.4" r="2.9"/>
<circle cx="126.6" cy="250.2" r="2.9"/>
<circle cx="126.6" cy="250.2" r="2.9"/>
<circle cx="126.6" cy="255.4" r="2.9"/>
<circle cx="126.6" cy="255.4" r="2.9"/>
<circle cx="126.6" cy="255.4" r="2.9"/>
<circle cx="131.9" cy="236.4" r="2.9"/>
<circle cx="131.9" cy="236.4" r="2.9"/>
<circle cx="131.9" cy="240.8" r="2.9"/>
<circle cx="131.9" cy="248.8" r="2.9"/>
<circle cx="131.9" cy="255.4" r="2.9"/>
<circle cx="131.9" cy="255.4" r="2.9"/>
<circle cx="131.9" cy="255.4" r="2.9"/>
<circle cx="137.3" cy="233.5" r="2.9"/>
<circle cx="137.3" cy="233.5" r="2.9"/>
<circle cx="137.3" cy="238.6" r="2.9"/>
<circle cx="137.3" cy="245.9" r="2.9"/>
<circle cx="137.3" cy="250.2" r="2.9"/>
<circle cx="137.3" cy="250.2" r="2.9"/>
<circle cx="137.3" cy="255.4" r="2.9"/>
<circle cx="137.3" cy="255.4" r="2.9"/>
<circle cx="137.3" cy="255.4" r="2.9"/>
<circle cx="142.7" cy="236.4" r="2.9"/>
<circle cx="142.7" cy="236.4" r="2.9"/>
<circle cx="142.7" cy="245.1" r="2.9"/>
<circle cx="142.7" cy="250.2" r="2.9"/>
<circle cx="142.7" cy="250.2" r="2.9"/>
<circle cx="142.7" cy="250.2" r="2.9"/>
<circle cx="142.7" cy="256.1" r="2.9"/>
<circle cx="142.7" cy="256.1" r="2.9"/>
<circle cx="148.1" cy="237.8" r="2.9"/>
<circle cx="148.1" cy="237.8" r="2.9"/>
<circle cx="148.1" cy="246.6" r="2.9"/>
<circle cx="148.1" cy="246.6" r="2.9"/>
<circle cx="148.1" cy="251.0" r="2.9"/>
<circle cx="148.1" cy="251.0" r="2.9"/>
<circle cx="148.1" cy="256.1" r="2.9"/>
<circle cx="148.1" cy="256.1" r="2.9"/>
<circle cx="153.4" cy="235.7" r="2.9"/>
<circle cx="153.4" cy="235.7" r="2.9"/>
<circle cx="153.4" cy="244.4" r="2.9"/>
<circle cx="153.4" cy="244.4" r="2.9"/>
<circle cx="153.4" cy="250.2" r="2.9"/>
<circle cx="153.4" cy="250.2" r="2.9"/>
<circle cx="153.4" cy="255.7" r="2.9"/>
<circle cx="153.4" cy="255.7" r="2.9"/>
<circle cx="153.4" cy="255.7" r="2.9"/>
<circle cx="158.8" cy="255.4" r="2.9"/>
<circle cx="158.8" cy="255.4" r="2.9"/>
<circle cx="158.8" cy="236.4" r="2.9"/>
<circle cx="164.2" cy="235.7" r="2.9"/>
<circle cx="164.2" cy="235.7" r="2.9"/>
<circle cx="164.2" cy="235.7" r="2.9"/>
<circle cx="164.2" cy="244.4" r="2.9"/>
<circle cx="164.2" cy="244.4" r="2.9"/>
<circle cx="164.2" cy="251.0" r="2.9"/>
<circle cx="164.2" cy="251.0" r="2.9"/>
<circle cx="164.2" cy="256.1" r="2.9"/>
<circle cx="164.2" cy="259.0" r="2.9"/>
<circle cx="169.5" cy="233.5" r="2.9"/>
<circle cx="169.5" cy="233.5" r="2.9"/>
<circle cx="169.5" cy="246.6" r="2.9"/>
<circle cx="169.5" cy="246.6" r="2.9"/>
<circle cx="169.5" cy="254.6" r="2.9"/>
<circle cx="169.5" cy="254.6" r="2.9"/>
<circle cx="169.5" cy="254.6" r="2.9"/>
<circle cx="174.9" cy="237.1" r="2.9"/>
<circle cx="174.9" cy="250.2" r="2.9"/>
<circle cx="174.9" cy="250.2" r="2.9"/>
<circle cx="174.9" cy="250.2" r="2.9"/>
<circle cx="174.9" cy="258.3" r="2.9"/>
<circle cx="180.2" cy="232.7" r="2.9"/>
<circle cx="180.2" cy="232.7" r="2.9"/>
<circle cx="180.2" cy="240.8" r="2.9"/>
<circle cx="180.2" cy="253.2" r="2.9"/>
<circle cx="180.2" cy="253.2" r="2.9"/>
<circle cx="180.2" cy="258.3" r="2.9"/>
<circle cx="185.6" cy="240.8" r="2.9"/>
<circle cx="185.6" cy="253.9" r="2.9"/>
<circle cx="185.6" cy="253.9" r="2.9"/>
<circle cx="185.6" cy="253.9" r="2.9"/>
<circle cx="185.6" cy="261.9" r="2.9"/>
<circle cx="191.0" cy="234.9" r="2.9"/>
<circle cx="191.0" cy="245.4" r="2.9"/>
<circle cx="191.0" cy="245.4" r="2.9"/>
<circle cx="191.0" cy="245.4" r="2.9"/>
<circle cx="191.0" cy="245.4" r="2.9"/>
<circle cx="191.0" cy="253.9" r="2.9"/>
<circle cx="191.0" cy="259.0" r="2.9"/>
<circle cx="191.0" cy="263.4" r="2.9"/>
<circle cx="196.4" cy="237.1" r="2.9"/>
<circle cx="196.4" cy="237.1" r="2.9"/>
<circle cx="196.4" cy="245.9" r="2.9"/>
<circle cx="196.4" cy="245.9" r="2.9"/>
<circle cx="196.4" cy="253.9" r="2.9"/>
<circle cx="196.4" cy="259.0" r="2.9"/>
<circle cx="196.4" cy="266.3" r="2.9"/>
<circle cx="201.7" cy="233.5" r="2.9"/>
<circle cx="201.7" cy="233.5" r="2.9"/>
<circle cx="201.7" cy="239.3" r="2.9"/>
<circle cx="201.7" cy="239.3" r="2.9"/>
<circle cx="201.7" cy="248.1" r="2.9"/>
<circle cx="201.7" cy="248.1" r="2.9"/>
<circle cx="201.7" cy="248.1" r="2.9"/>
<circle cx="201.7" cy="258.3" r="2.9"/>
<circle cx="201.7" cy="258.3" r="2.9"/>
<circle cx="201.7" cy="262.7" r="2.9"/>
<circle cx="207.1" cy="233.5" r="2.9"/>
<circle cx="207.1" cy="233.5" r="2.9"/>
<circle cx="207.1" cy="238.6" r="2.9"/>
<circle cx="207.1" cy="238.6" r="2.9"/>
<circle cx="207.1" cy="245.9" r="2.9"/>
<circle cx="207.1" cy="245.9" r="2.9"/>
<circle cx="207.1" cy="245.9" r="2.9"/>
<circle cx="207.1" cy="253.9" r="2.9"/>
<circle cx="207.1" cy="259.7" r="2.9"/>
<circle cx="207.1" cy="259.7" r="2.9"/>
<circle cx="207.1" cy="261.9" r="2.9"/>
<circle cx="212.5" cy="237.8" r="2.9"/>
<circle cx="212.5" cy="237.8" r="2.9"/>
<circle cx="212.5" cy="243.7" r="2.9"/>
<circle cx="212.5" cy="243.7" r="2.9"/>
<circle cx="212.5" cy="248.1" r="2.9"/>
<circle cx="212.5" cy="248.1" r="2.9"/>
<circle cx="212.5" cy="254.6" r="2.9"/>
<circle cx="212.5" cy="260.5" r="2.9"/>
<circle cx="212.5" cy="260.5" r="2.9"/>
<circle cx="217.8" cy="237.8" r="2.9"/>
<circle cx="217.8" cy="237.8" r="2.9"/>
<circle cx="217.8" cy="242.2" r="2.9"/>
<circle cx="217.8" cy="242.2" r="2.9"/>
<circle cx="217.8" cy="249.5" r="2.9"/>
<circle cx="217.8" cy="249.5" r="2.9"/>
<circle cx="217.8" cy="256.1" r="2.9"/>
<circle cx="217.8" cy="256.1" r="2.9"/>
<circle cx="217.8" cy="259.7" r="2.9"/>
<circle cx="217.8" cy="259.7" r="2.9"/>
<circle cx="223.2" cy="246.6" r="2.9"/>
<circle cx="223.2" cy="246.6" r="2.9"/>
<circle cx="223.2" cy="258.3" r="2.9"/>
<circle cx="223.2" cy="258.3" r="2.9"/>
<circle cx="228.6" cy="234.2" r="2.9"/>
<circle cx="228.6" cy="234.2" r="2.9"/>
<circle cx="228.6" cy="242.2" r="2.9"/>
<circle cx="228.6" cy="242.2" r="2.9"/>
<circle cx="228.6" cy="242.2" r="2.9"/>
<circle cx="228.6" cy="246.6" r="2.9"/>
<circle cx="228.6" cy="246.6" r="2.9"/>
<circle cx="228.6" cy="253.2" r="2.9"/>
<circle cx="228.6" cy="253.2" r="2.9"/>
<circle cx="228.6" cy="259.7" r="2.9"/>
<circle cx="228.6" cy="259.7" r="2.9"/>
<circle cx="228.6" cy="261.9" r="2.9"/>
<circle cx="233.9" cy="236.4" r="2.9"/>
<circle cx="233.9" cy="236.4" r="2.9"/>
<circle cx="233.9" cy="236.4" r="2.9"/>
<circle cx="233.9" cy="246.6" r="2.9"/>
<circle cx="233.9" cy="246.6" r="2.9"/>
<circle cx="233.9" cy="250.2" r="2.9"/>
<circle cx="233.9" cy="250.2" r="2.9"/>
<circle cx="233.9" cy="256.1" r="2.9"/>
<circle cx="233.9" cy="256.1" r="2.9"/>
<circle cx="233.9" cy="260.5" r="2.9"/>
<circle cx="233.9" cy="260.5" r="2.9"/>
<circle cx="239.3" cy="234.9" r="2.9"/>
<circle cx="239.3" cy="234.9" r="2.9"/>
<circle cx="239.3" cy="242.9" r="2.9"/>
<circle cx="239.3" cy="242.9" r="2.9"/>
<circle cx="239.3" cy="248.1" r="2.9"/>
<circle cx="239.3" cy="248.1" r="2.9"/>
<circle cx="239.3" cy="256.1" r="2.9"/>
<circle cx="239.3" cy="256.1" r="2.9"/>
<circle cx="239.3" cy="262.7" r="2.9"/>
<circle cx="239.3" cy="262.7" r="2.9"/>
<circle cx="244.7" cy="237.8" r="2.9"/>
<circle cx="244.7" cy="237.8" r="2.9"/>
<circle cx="244.7" cy="245.1" r="2.9"/>
<circle cx="244.7" cy="245.1" r="2.9"/>
<circle cx="244.7" cy="253.9" r="2.9"/>
<circle cx="244.7" cy="253.9" r="2.9"/>
<circle cx="244.7" cy="253.9" r="2.9"/>
<circle cx="244.7" cy="259.0" r="2.9"/>
<circle cx="244.7" cy="259.0" r="2.9"/>
<circle cx="244.7" cy="259.0" r="2.9"/>
<circle cx="250.0" cy="240.8" r="2.9"/>
<circle cx="250.0" cy="248.8" r="2.9"/>
<circle cx="250.0" cy="248.8" r="2.9"/>
<circle cx="250.0" cy="248.8" r="2.9"/>
<circle cx="250.0" cy="255.4" r="2.9"/>
<circle cx="250.0" cy="255.4" r="2.9"/>
<circle cx="250.0" cy="259.0" r="2.9"/>
<circle cx="250.0" cy="259.0" r="2.9"/>
<circle cx="250.0" cy="259.0" r="2.9"/>
<circle cx="255.4" cy="233.5" r="2.9"/>
<circle cx="255.4" cy="239.3" r="2.9"/>
<circle cx="255.4" cy="239.3" r="2.9"/>
<circle cx="255.4" cy="245.9" r="2.9"/>
<circle cx="255.4" cy="256.1" r="2.9"/>
<circle cx="255.4" cy="256.1" r="2.9"/>
<circle cx="255.4" cy="256.1" r="2.9"/>
<circle cx="255.4" cy="259.0" r="2.9"/>
<circle cx="255.4" cy="259.0" r="2.9"/>
<circle cx="255.4" cy="259.0" r="2.9"/>
<circle cx="260.8" cy="237.1" r="2.9"/>
<circle cx="260.8" cy="237.1" r="2.9"/>
<circle cx="260.8" cy="241.5" r="2.9"/>
<circle cx="260.8" cy="248.8" r="2.9"/>
<circle cx="260.8" cy="248.8" r="2.9"/>
<circle cx="260.8" cy="258.3" r="2.9"/>
<circle cx="260.8" cy="258.3" r="2.9"/>
<circle cx="260.8" cy="258.3" r="2.9"/>
<circle cx="266.1" cy="233.5" r="2.9"/>
<circle cx="266.1" cy="233.5" r="2.9"/>
<circle cx="266.1" cy="238.6" r="2.9"/>
<circle cx="266.1" cy="245.9" r="2.9"/>
<circle cx="266.1" cy="253.9" r="2.9"/>
<circle cx="266.1" cy="253.9" r="2.9"/>
<circle cx="266.1" cy="259.0" r="2.9"/>
<circle cx="266.1" cy="259.0" r="2.9"/>
<circle cx="266.1" cy="259.0" r="2.9"/>
<circle cx="271.5" cy="235.7" r="2.9"/>
<circle cx="271.5" cy="235.7" r="2.9"/>
<circle cx="271.5" cy="235.7" r="2.9"/>
<circle cx="271.5" cy="240.8" r="2.9"/>
<circle cx="271.5" cy="247.3" r="2.9"/>
<circle cx="271.5" cy="253.9" r="2.9"/>
<circle cx="271.5" cy="253.9" r="2.9"/>
<circle cx="271.5" cy="253.9" r="2.9"/>
<circle cx="271.5" cy="258.3" r="2.9"/>
<circle cx="271.5" cy="258.3" r="2.9"/>
<circle cx="271.5" cy="258.3" r="2.9"/>
<circle cx="271.5" cy="261.9" r="2.9"/>
<circle cx="276.9" cy="238.6" r="2.9"/>
<circle cx="276.9" cy="238.6" r="2.9"/>
<circle cx="276.9" cy="245.9" r="2.9"/>
<circle cx="276.9" cy="245.9" r="2.9"/>
<circle cx="276.9" cy="253.9" r="2.9"/>
<circle cx="276.9" cy="253.9" r="2.9"/>
<circle cx="276.9" cy="253.9" r="2.9"/>
<circle cx="276.9" cy="259.0" r="2.9"/>
<circle cx="276.9" cy="259.0" r="2.9"/>
<circle cx="282.2" cy="236.4" r="2.9"/>
<circle cx="282.2" cy="240.8" r="2.9"/>
<circle cx="282.2" cy="248.8" r="2.9"/>
<circle cx="282.2" cy="248.8" r="2.9"/>
<circle cx="282.2" cy="253.9" r="2.9"/>
<circle cx="282.2" cy="253.9" r="2.9"/>
<circle cx="282.2" cy="258.3" r="2.9"/>
<circle cx="282.2" cy="258.3" r="2.9"/>
<circle cx="287.6" cy="239.3" r="2.9"/>
<circle cx="287.6" cy="247.3" r="2.9"/>
<circle cx="287.6" cy="247.3" r="2.9"/>
<circle cx="287.6" cy="247.3" r="2.9"/>
<circle cx="287.6" cy="253.9" r="2.9"/>
<circle cx="287.6" cy="253.9" r="2.9"/>
<circle cx="287.6" cy="258.3" r="2.9"/>
<circle cx="287.6" cy="258.3" r="2.9"/>
<circle cx="293.0" cy="242.2" r="2.9"/>
<circle cx="293.0" cy="242.2" r="2.9"/>
<circle cx="293.0" cy="246.6" r="2.9"/>
<circle cx="293.0" cy="246.6" r="2.9"/>
<circle cx="293.0" cy="246.6" r="2.9"/>
<circle cx="293.0" cy="253.9" r="2.9"/>
<circle cx="293.0" cy="253.9" r="2.9"/>
<circle cx="293.0" cy="258.3" r="2.9"/>
<circle cx="293.0" cy="258.3" r="2.9"/>
<circle cx="298.3" cy="234.9" r="2.9"/>
<circle cx="298.3" cy="234.9" r="2.9"/>
<circle cx="298.3" cy="234.9" r="2.9"/>
<circle cx="298.3" cy="241.5" r="2.9"/>
<circle cx="298.3" cy="241.5" r="2.9"/>
<circle cx="298.3" cy="251.0" r="2.9"/>
<circle cx="298.3" cy="251.0" r="2.9"/>
<circle cx="298.3" cy="251.0" r="2.9"/>
<circle cx="298.3" cy="256.8" r="2.9"/>
<circle cx="303.7" cy="233.5" r="2.9"/>
<circle cx="303.7" cy="233.5" r="2.9"/>
<circle cx="303.7" cy="242.2" r="2.9"/>
<circle cx="303.7" cy="242.2" r="2.9"/>
<circle cx="303.7" cy="242.2" r="2.9"/>
<circle cx="303.7" cy="247.3" r="2.9"/>
<circle cx="303.7" cy="247.3" r="2.9"/>
<circle cx="303.7" cy="255.4" r="2.9"/>
<circle cx="303.7" cy="259.0" r="2.9"/>
<circle cx="303.7" cy="276.5" r="2.9"/>
<circle cx="309.1" cy="237.1" r="2.9"/>
<circle cx="309.1" cy="237.1" r="2.9"/>
<circle cx="309.1" cy="242.2" r="2.9"/>
<circle cx="309.1" cy="242.2" r="2.9"/>
<circle cx="309.1" cy="247.3" r="2.9"/>
<circle cx="309.1" cy="247.3" r="2.9"/>
<circle cx="309.1" cy="260.5" r="2.9"/>
<circle cx="314.4" cy="236.4" r="2.9"/>
<circle cx="314.4" cy="236.4" r="2.9"/>
<circle cx="314.4" cy="236.4" r="2.9"/>
<circle cx="314.4" cy="240.8" r="2.9"/>
<circle cx="314.4" cy="240.8" r="2.9"/>
<circle cx="314.4" cy="249.5" r="2.9"/>
<circle cx="314.4" cy="262.9" r="2.9"/>
<circle cx="319.8" cy="232.7" r="2.9"/>
<circle cx="319.8" cy="237.1" r="2.9"/>
<circle cx="319.8" cy="237.1" r="2.9"/>
<circle cx="319.8" cy="242.2" r="2.9"/>
<circle cx="319.8" cy="249.5" r="2.9"/>
<circle cx="319.8" cy="257.6" r="2.9"/>
<circle cx="319.8" cy="259.4" r="2.9"/>
<circle cx="319.8" cy="259.4" r="2.9"/>
<circle cx="319.8" cy="273.9" r="2.9"/>
<circle cx="72.9" cy="229.6" r="2.9"/>
<circle cx="72.9" cy="229.6" r="2.9"/>
<circle cx="72.9" cy="235.7" r="2.9"/>
<circle cx="72.9" cy="240.4" r="2.9"/>
<circle cx="78.3" cy="229.6" r="2.9"/>
<circle cx="78.3" cy="229.6" r="2.9"/>
<circle cx="78.3" cy="237.3" r="2.9"/>
<circle cx="78.3" cy="245.0" r="2.9"/>
<circle cx="83.6" cy="234.7" r="2.9"/>
<circle cx="83.6" cy="240.9" r="2.9"/>
<circle cx="83.6" cy="240.9" r="2.9"/>
<circle cx="89.0" cy="229.0" r="2.9"/>
<circle cx="89.0" cy="229.0" r="2.9"/>
<circle cx="89.0" cy="247.1" r="2.9"/>
<circle cx="89.0" cy="247.1" r="2.9"/>
<circle cx="89.0" cy="241.4" r="2.9"/>
<circle cx="105.1" cy="240.9" r="2.9"/>
<circle cx="110.5" cy="235.2" r="2.9"/>
<circle cx="110.5" cy="249.1" r="2.9"/>
<circle cx="126.6" cy="231.1" r="2.9"/>
<circle cx="126.6" cy="231.1" r="2.9"/>
<circle cx="137.3" cy="229.6" r="2.9"/>
<circle cx="137.3" cy="252.5" r="2.9"/>
<circle cx="142.7" cy="232.9" r="2.9"/>
<circle cx="148.1" cy="240.9" r="2.9"/>
<circle cx="153.4" cy="252.2" r="2.9"/>
<circle cx="174.9" cy="231.6" r="2.9"/>
<circle cx="174.9" cy="257.4" r="2.9"/>
<circle cx="207.1" cy="242.9" r="2.9"/>
<circle cx="207.1" cy="253.8" r="2.9"/>
<circle cx="212.5" cy="231.1" r="2.9"/>
<circle cx="212.5" cy="254.3" r="2.9"/>
<circle cx="217.8" cy="228.5" r="2.9"/>
<circle cx="217.8" cy="252.7" r="2.9"/>
<circle cx="228.6" cy="249.1" r="2.9"/>
<circle cx="228.6" cy="236.2" r="2.9"/>
<circle cx="233.9" cy="241.9" r="2.9"/>
<circle cx="239.3" cy="229.6" r="2.9"/>
<circle cx="239.3" cy="229.6" r="2.9"/>
<circle cx="239.3" cy="252.2" r="2.9"/>
<circle cx="250.0" cy="254.6" r="2.9"/>
<circle cx="250.0" cy="254.6" r="2.9"/>
<circle cx="255.4" cy="241.4" r="2.9"/>
<circle cx="255.4" cy="255.0" r="2.9"/>
<circle cx="255.4" cy="255.0" r="2.9"/>
<circle cx="260.8" cy="239.3" r="2.9"/>
<circle cx="271.5" cy="235.7" r="2.9"/>
<circle cx="271.5" cy="253.3" r="2.9"/>
<circle cx="276.9" cy="254.3" r="2.9"/>
<circle cx="298.3" cy="243.5" r="2.9"/>
<circle cx="303.7" cy="237.8" r="2.9"/>
<circle cx="309.1" cy="233.7" r="2.9"/>
<circle cx="309.1" cy="237.8" r="2.9"/>
<circle cx="72.9" cy="285.2" r="2.9"/>
<circle cx="72.9" cy="280.2" r="2.9"/>
</g>
<polyline points="67.5,165.8 83.6,102.2 89.0,92.4 94.4,82.6 99.7,75.3 105.1,67.8 110.5,62.6 115.8,60.4 121.2,59.0 126.6,57.7 131.9,56.7 137.3,55.7 148.1,54.6 169.5,54.5 174.9,54.5 180.2,54.5 185.6,54.5 217.8,54.5 255.4,65.0 287.6,77.1 293.0,82.7 303.7,96.0 309.1,117.2 314.4,132.5 319.8,155.3" fill="none" stroke="#ff0000" stroke-width="4" stroke-linejoin="round" stroke-linecap="butt"/>
<g fill="#ff0000">
<circle cx="169.5" cy="54.3" r="2.5"/>
<circle cx="174.9" cy="54.3" r="2.5"/>
<circle cx="180.2" cy="54.3" r="2.5"/>
<circle cx="185.6" cy="54.3" r="2.5"/>
<circle cx="217.8" cy="54.2" r="2.5"/>
</g>
<line x1="158.78" x2="158.78" y1="15.7" y2="296.0" stroke="#008000" stroke-width="3"/>
<line x1="223.19" x2="223.19" y1="15.7" y2="296.0" stroke="#0000ff" stroke-width="3"/>
<text x="156.28" y="290.2" font-size="11.2" fill="#008000" text-anchor="end">Terra</text>
<text x="227.69" y="290.2" font-size="11.2" fill="#0000ff">Aqua</text>
<rect x="40.7" y="15.7" width="289.84" height="280.3" fill="none" stroke="#000" stroke-width="1"/>
<line x1="40.70" x2="40.70" y1="296.0" y2="300.8" stroke="#000" stroke-width="1"/>
<text x="40.70" y="312.9" font-size="10" text-anchor="middle">5.0</text>
<line x1="94.38" x2="94.38" y1="296.0" y2="300.8" stroke="#000" stroke-width="1"/>
<text x="94.38" y="312.9" font-size="10" text-anchor="middle">7.5</text>
<line x1="148.05" x2="148.05" y1="296.0" y2="300.8" stroke="#000" stroke-width="1"/>
<text x="148.05" y="312.9" font-size="10" text-anchor="middle">10.0</text>
<line x1="201.72" x2="201.72" y1="296.0" y2="300.8" stroke="#000" stroke-width="1"/>
<text x="201.72" y="312.9" font-size="10" text-anchor="middle">12.5</text>
<line x1="255.40" x2="255.40" y1="296.0" y2="300.8" stroke="#000" stroke-width="1"/>
<text x="255.40" y="312.9" font-size="10" text-anchor="middle">15.0</text>
<line x1="309.07" x2="309.07" y1="296.0" y2="300.8" stroke="#000" stroke-width="1"/>
<text x="309.07" y="312.9" font-size="10" text-anchor="middle">17.5</text>
<line x1="35.5" x2="40.7" y1="268.00" y2="268.00" stroke="#000" stroke-width="1"/>
<text x="31.00" y="271.80" font-size="10" text-anchor="end">0.0</text>
<line x1="35.5" x2="40.7" y1="211.94" y2="211.94" stroke="#000" stroke-width="1"/>
<text x="31.00" y="215.74" font-size="10" text-anchor="end">0.2</text>
<line x1="35.5" x2="40.7" y1="155.88" y2="155.88" stroke="#000" stroke-width="1"/>
<text x="31.00" y="159.68" font-size="10" text-anchor="end">0.4</text>
<line x1="35.5" x2="40.7" y1="99.82" y2="99.82" stroke="#000" stroke-width="1"/>
<text x="31.00" y="103.62" font-size="10" text-anchor="end">0.6</text>
<line x1="35.5" x2="40.7" y1="43.76" y2="43.76" stroke="#000" stroke-width="1"/>
<text x="31.00" y="47.56" font-size="10" text-anchor="end">0.8</text>
<text x="185.62" y="8.8" font-size="11.3" text-anchor="middle">February, 2018</text>
<text x="185.62" y="328.1" font-size="10" text-anchor="middle">local time (UTC-4)</text>
<text transform="translate(8.00,155.8) rotate(-90)" font-size="10" text-anchor="middle">ABI NDVI</text>
<text x="6.0" y="10.1" font-size="12" font-weight="bold" font-family="'Liberation Sans', Arial, sans-serif">a</text>
<rect x="480.48" y="15.7" width="128.82" height="280.3" fill="#e5e5e5"/>
<g fill="#000" fill-opacity="0.5" filter="url(#soft)">
<circle cx="448.3" cy="85.3" r="2.9"/>
<circle cx="453.6" cy="79.4" r="2.9"/>
<circle cx="453.6" cy="79.4" r="2.9"/>
<circle cx="453.6" cy="79.4" r="2.9"/>
<circle cx="453.6" cy="85.3" r="2.9"/>
<circle cx="453.6" cy="85.3" r="2.9"/>
<circle cx="459.0" cy="72.8" r="2.9"/>
<circle cx="459.0" cy="72.8" r="2.9"/>
<circle cx="459.0" cy="72.8" r="2.9"/>
<circle cx="459.0" cy="75.8" r="2.9"/>
<circle cx="459.0" cy="75.8" r="2.9"/>
<circle cx="459.0" cy="75.8" r="2.9"/>
<circle cx="459.0" cy="83.1" r="2.9"/>
<circle cx="459.0" cy="86.7" r="2.9"/>
<circle cx="459.0" cy="86.7" r="2.9"/>
<circle cx="464.4" cy="71.4" r="2.9"/>
<circle cx="464.4" cy="71.4" r="2.9"/>
<circle cx="464.4" cy="71.4" r="2.9"/>
<circle cx="464.4" cy="81.6" r="2.9"/>
<circle cx="464.4" cy="86.7" r="2.9"/>
<circle cx="469.8" cy="67.5" r="2.9"/>
<circle cx="469.8" cy="67.5" r="2.9"/>
<circle cx="469.8" cy="72.4" r="2.9"/>
<circle cx="469.8" cy="72.4" r="2.9"/>
<circle cx="469.8" cy="80.9" r="2.9"/>
<circle cx="469.8" cy="80.9" r="2.9"/>
<circle cx="469.8" cy="86.0" r="2.9"/>
<circle cx="475.1" cy="66.3" r="2.9"/>
<circle cx="475.1" cy="66.3" r="2.9"/>
<circle cx="475.1" cy="71.0" r="2.9"/>
<circle cx="475.1" cy="76.5" r="2.9"/>
<circle cx="475.1" cy="76.5" r="2.9"/>
<circle cx="475.1" cy="81.6" r="2.9"/>
<circle cx="475.1" cy="86.7" r="2.9"/>
<circle cx="480.5" cy="65.1" r="2.9"/>
<circle cx="480.5" cy="65.1" r="2.9"/>
<circle cx="480.5" cy="65.1" r="2.9"/>
<circle cx="480.5" cy="70.7" r="2.9"/>
<circle cx="480.5" cy="70.7" r="2.9"/>
<circle cx="480.5" cy="75.0" r="2.9"/>
<circle cx="480.5" cy="80.9" r="2.9"/>
<circle cx="480.5" cy="80.9" r="2.9"/>
<circle cx="480.5" cy="86.7" r="2.9"/>
<circle cx="485.9" cy="64.2" r="2.9"/>
<circle cx="485.9" cy="64.2" r="2.9"/>
<circle cx="485.9" cy="68.5" r="2.9"/>
<circle cx="485.9" cy="68.5" r="2.9"/>
<circle cx="485.9" cy="68.5" r="2.9"/>
<circle cx="485.9" cy="77.2" r="2.9"/>
<circle cx="491.2" cy="61.9" r="2.9"/>
<circle cx="491.2" cy="61.9" r="2.9"/>
<circle cx="491.2" cy="67.0" r="2.9"/>
<circle cx="491.2" cy="72.8" r="2.9"/>
<circle cx="491.2" cy="72.8" r="2.9"/>
<circle cx="491.2" cy="72.8" r="2.9"/>
<circle cx="491.2" cy="77.2" r="2.9"/>
<circle cx="491.2" cy="77.2" r="2.9"/>
<circle cx="491.2" cy="86.7" r="2.9"/>
<circle cx="496.6" cy="61.9" r="2.9"/>
<circle cx="496.6" cy="61.9" r="2.9"/>
<circle cx="496.6" cy="61.9" r="2.9"/>
<circle cx="496.6" cy="64.1" r="2.9"/>
<circle cx="496.6" cy="64.1" r="2.9"/>
<circle cx="496.6" cy="64.1" r="2.9"/>
<circle cx="496.6" cy="71.4" r="2.9"/>
<circle cx="496.6" cy="71.4" r="2.9"/>
<circle cx="496.6" cy="75.0" r="2.9"/>
<circle cx="496.6" cy="75.0" r="2.9"/>
<circle cx="496.6" cy="81.6" r="2.9"/>
<circle cx="501.9" cy="61.9" r="2.9"/>
<circle cx="501.9" cy="61.9" r="2.9"/>
<circle cx="501.9" cy="61.9" r="2.9"/>
<circle cx="501.9" cy="68.5" r="2.9"/>
<circle cx="501.9" cy="68.5" r="2.9"/>
<circle cx="501.9" cy="74.3" r="2.9"/>
<circle cx="501.9" cy="74.3" r="2.9"/>
<circle cx="501.9" cy="78.0" r="2.9"/>
<circle cx="507.3" cy="61.9" r="2.9"/>
<circle cx="507.3" cy="61.9" r="2.9"/>
<circle cx="507.3" cy="61.9" r="2.9"/>
<circle cx="507.3" cy="66.3" r="2.9"/>
<circle cx="507.3" cy="66.3" r="2.9"/>
<circle cx="507.3" cy="75.0" r="2.9"/>
<circle cx="507.3" cy="75.0" r="2.9"/>
<circle cx="518.0" cy="61.9" r="2.9"/>
<circle cx="518.0" cy="61.9" r="2.9"/>
<circle cx="518.0" cy="66.3" r="2.9"/>
<circle cx="518.0" cy="69.9" r="2.9"/>
<circle cx="518.0" cy="81.6" r="2.9"/>
<circle cx="523.4" cy="61.6" r="2.9"/>
<circle cx="523.4" cy="61.6" r="2.9"/>
<circle cx="523.4" cy="73.6" r="2.9"/>
<circle cx="523.4" cy="73.6" r="2.9"/>
<circle cx="523.4" cy="80.9" r="2.9"/>
<circle cx="523.4" cy="80.9" r="2.9"/>
<circle cx="528.8" cy="68.0" r="2.9"/>
<circle cx="528.8" cy="68.0" r="2.9"/>
<circle cx="528.8" cy="68.0" r="2.9"/>
<circle cx="528.8" cy="74.3" r="2.9"/>
<circle cx="528.8" cy="78.7" r="2.9"/>
<circle cx="528.8" cy="78.7" r="2.9"/>
<circle cx="528.8" cy="81.6" r="2.9"/>
<circle cx="534.1" cy="66.3" r="2.9"/>
<circle cx="534.1" cy="79.1" r="2.9"/>
<circle cx="539.5" cy="66.3" r="2.9"/>
<circle cx="539.5" cy="72.1" r="2.9"/>
<circle cx="539.5" cy="86.7" r="2.9"/>
<circle cx="539.5" cy="86.7" r="2.9"/>
<circle cx="544.9" cy="63.4" r="2.9"/>
<circle cx="544.9" cy="70.4" r="2.9"/>
<circle cx="544.9" cy="86.7" r="2.9"/>
<circle cx="550.3" cy="64.1" r="2.9"/>
<circle cx="550.3" cy="64.1" r="2.9"/>
<circle cx="550.3" cy="64.1" r="2.9"/>
<circle cx="550.3" cy="79.1" r="2.9"/>
<circle cx="550.3" cy="79.1" r="2.9"/>
<circle cx="550.3" cy="79.1" r="2.9"/>
<circle cx="550.3" cy="87.5" r="2.9"/>
<circle cx="555.6" cy="64.1" r="2.9"/>
<circle cx="555.6" cy="64.1" r="2.9"/>
<circle cx="555.6" cy="67.0" r="2.9"/>
<circle cx="555.6" cy="67.0" r="2.9"/>
<circle cx="555.6" cy="71.4" r="2.9"/>
<circle cx="555.6" cy="71.4" r="2.9"/>
<circle cx="555.6" cy="79.4" r="2.9"/>
<circle cx="561.0" cy="64.1" r="2.9"/>
<circle cx="561.0" cy="64.1" r="2.9"/>
<circle cx="561.0" cy="78.7" r="2.9"/>
<circle cx="561.0" cy="78.7" r="2.9"/>
<circle cx="561.0" cy="83.8" r="2.9"/>
<circle cx="561.0" cy="83.8" r="2.9"/>
<circle cx="566.4" cy="63.4" r="2.9"/>
<circle cx="566.4" cy="63.4" r="2.9"/>
<circle cx="566.4" cy="63.4" r="2.9"/>
<circle cx="566.4" cy="73.6" r="2.9"/>
<circle cx="566.4" cy="79.4" r="2.9"/>
<circle cx="566.4" cy="79.4" r="2.9"/>
<circle cx="566.4" cy="84.5" r="2.9"/>
<circle cx="566.4" cy="84.5" r="2.9"/>
<circle cx="566.4" cy="84.5" r="2.9"/>
<circle cx="571.7" cy="61.9" r="2.9"/>
<circle cx="571.7" cy="71.4" r="2.9"/>
<circle cx="571.7" cy="83.8" r="2.9"/>
<circle cx="582.5" cy="66.0" r="2.9"/>
<circle cx="582.5" cy="66.0" r="2.9"/>
<circle cx="582.5" cy="66.0" r="2.9"/>
<circle cx="582.5" cy="73.6" r="2.9"/>
<circle cx="582.5" cy="73.6" r="2.9"/>
<circle cx="582.5" cy="73.6" r="2.9"/>
<circle cx="582.5" cy="78.2" r="2.9"/>
<circle cx="582.5" cy="78.2" r="2.9"/>
<circle cx="512.7" cy="63.4" r="2.9"/>
<circle cx="512.7" cy="63.4" r="2.9"/>
<circle cx="512.7" cy="73.6" r="2.9"/>
<circle cx="577.1" cy="64.8" r="2.9"/>
<circle cx="577.1" cy="76.5" r="2.9"/>
<circle cx="577.1" cy="76.5" r="2.9"/>
<circle cx="587.8" cy="67.0" r="2.9"/>
<circle cx="587.8" cy="67.0" r="2.9"/>
<circle cx="587.8" cy="67.0" r="2.9"/>
<circle cx="587.8" cy="75.0" r="2.9"/>
<circle cx="587.8" cy="75.0" r="2.9"/>
<circle cx="587.8" cy="75.0" r="2.9"/>
<circle cx="587.8" cy="81.6" r="2.9"/>
<circle cx="587.8" cy="81.6" r="2.9"/>
<circle cx="593.2" cy="67.7" r="2.9"/>
<circle cx="593.2" cy="75.8" r="2.9"/>
<circle cx="593.2" cy="75.8" r="2.9"/>
<circle cx="593.2" cy="78.7" r="2.9"/>
<circle cx="593.2" cy="78.7" r="2.9"/>
<circle cx="593.2" cy="78.7" r="2.9"/>
<circle cx="598.6" cy="67.0" r="2.9"/>
<circle cx="598.6" cy="72.8" r="2.9"/>
<circle cx="598.6" cy="72.8" r="2.9"/>
<circle cx="598.6" cy="72.8" r="2.9"/>
<circle cx="598.6" cy="81.6" r="2.9"/>
<circle cx="598.6" cy="81.6" r="2.9"/>
<circle cx="603.9" cy="74.3" r="2.9"/>
<circle cx="603.9" cy="74.3" r="2.9"/>
<circle cx="603.9" cy="86.7" r="2.9"/>
<circle cx="603.9" cy="86.7" r="2.9"/>
<circle cx="609.3" cy="72.8" r="2.9"/>
<circle cx="609.3" cy="72.8" r="2.9"/>
<circle cx="609.3" cy="80.9" r="2.9"/>
<circle cx="609.3" cy="80.9" r="2.9"/>
<circle cx="609.3" cy="80.9" r="2.9"/>
<circle cx="614.7" cy="74.3" r="2.9"/>
<circle cx="614.7" cy="74.3" r="2.9"/>
<circle cx="614.7" cy="82.3" r="2.9"/>
<circle cx="614.7" cy="82.3" r="2.9"/>
<circle cx="620.0" cy="78.2" r="2.9"/>
<circle cx="620.0" cy="78.2" r="2.9"/>
<circle cx="620.0" cy="78.2" r="2.9"/>
<circle cx="620.0" cy="86.7" r="2.9"/>
<circle cx="625.4" cy="83.1" r="2.9"/>
<circle cx="625.4" cy="83.1" r="2.9"/>
<circle cx="630.8" cy="84.5" r="2.9"/>
<circle cx="630.8" cy="84.5" r="2.9"/>
<circle cx="630.8" cy="84.5" r="2.9"/>
<circle cx="426.8" cy="130.3" r="2.9"/>
<circle cx="426.8" cy="130.3" r="2.9"/>
<circle cx="432.2" cy="114.3" r="2.9"/>
<circle cx="432.2" cy="123.0" r="2.9"/>
<circle cx="432.2" cy="123.0" r="2.9"/>
<circle cx="432.2" cy="126.7" r="2.9"/>
<circle cx="432.2" cy="126.7" r="2.9"/>
<circle cx="432.2" cy="131.8" r="2.9"/>
<circle cx="432.2" cy="131.8" r="2.9"/>
<circle cx="437.5" cy="104.1" r="2.9"/>
<circle cx="437.5" cy="104.1" r="2.9"/>
<circle cx="437.5" cy="109.2" r="2.9"/>
<circle cx="437.5" cy="109.2" r="2.9"/>
<circle cx="437.5" cy="113.5" r="2.9"/>
<circle cx="437.5" cy="113.5" r="2.9"/>
<circle cx="437.5" cy="122.3" r="2.9"/>
<circle cx="437.5" cy="132.5" r="2.9"/>
<circle cx="442.9" cy="90.9" r="2.9"/>
<circle cx="442.9" cy="96.0" r="2.9"/>
<circle cx="442.9" cy="96.0" r="2.9"/>
<circle cx="442.9" cy="102.6" r="2.9"/>
<circle cx="442.9" cy="102.6" r="2.9"/>
<circle cx="442.9" cy="102.6" r="2.9"/>
<circle cx="442.9" cy="121.6" r="2.9"/>
<circle cx="442.9" cy="126.2" r="2.9"/>
<circle cx="442.9" cy="126.2" r="2.9"/>
<circle cx="448.3" cy="90.2" r="2.9"/>
<circle cx="448.3" cy="90.2" r="2.9"/>
<circle cx="448.3" cy="90.2" r="2.9"/>
<circle cx="448.3" cy="96.8" r="2.9"/>
<circle cx="448.3" cy="96.8" r="2.9"/>
<circle cx="448.3" cy="114.3" r="2.9"/>
<circle cx="448.3" cy="114.3" r="2.9"/>
<circle cx="448.3" cy="114.3" r="2.9"/>
<circle cx="448.3" cy="131.8" r="2.9"/>
<circle cx="448.3" cy="131.8" r="2.9"/>
<circle cx="453.6" cy="88.7" r="2.9"/>
<circle cx="453.6" cy="88.7" r="2.9"/>
<circle cx="453.6" cy="88.7" r="2.9"/>
<circle cx="453.6" cy="102.6" r="2.9"/>
<circle cx="453.6" cy="107.7" r="2.9"/>
<circle cx="453.6" cy="114.3" r="2.9"/>
<circle cx="453.6" cy="118.7" r="2.9"/>
<circle cx="453.6" cy="131.1" r="2.9"/>
<circle cx="453.6" cy="131.1" r="2.9"/>
<circle cx="453.6" cy="131.1" r="2.9"/>
<circle cx="459.0" cy="94.6" r="2.9"/>
<circle cx="459.0" cy="94.6" r="2.9"/>
<circle cx="459.0" cy="101.9" r="2.9"/>
<circle cx="459.0" cy="101.9" r="2.9"/>
<circle cx="459.0" cy="107.0" r="2.9"/>
<circle cx="459.0" cy="126.2" r="2.9"/>
<circle cx="464.4" cy="90.2" r="2.9"/>
<circle cx="464.4" cy="90.2" r="2.9"/>
<circle cx="464.4" cy="95.3" r="2.9"/>
<circle cx="464.4" cy="95.3" r="2.9"/>
<circle cx="464.4" cy="99.0" r="2.9"/>
<circle cx="464.4" cy="102.6" r="2.9"/>
<circle cx="464.4" cy="106.2" r="2.9"/>
<circle cx="464.4" cy="114.3" r="2.9"/>
<circle cx="464.4" cy="122.3" r="2.9"/>
<circle cx="464.4" cy="127.4" r="2.9"/>
<circle cx="464.4" cy="127.4" r="2.9"/>
<circle cx="464.4" cy="131.8" r="2.9"/>
<circle cx="469.8" cy="90.2" r="2.9"/>
<circle cx="469.8" cy="94.6" r="2.9"/>
<circle cx="469.8" cy="99.0" r="2.9"/>
<circle cx="469.8" cy="107.7" r="2.9"/>
<circle cx="469.8" cy="112.1" r="2.9"/>
<circle cx="469.8" cy="112.1" r="2.9"/>
<circle cx="469.8" cy="121.6" r="2.9"/>
<circle cx="469.8" cy="121.6" r="2.9"/>
<circle cx="475.1" cy="89.5" r="2.9"/>
<circle cx="475.1" cy="89.5" r="2.9"/>
<circle cx="475.1" cy="89.5" r="2.9"/>
<circle cx="475.1" cy="93.8" r="2.9"/>
<circle cx="475.1" cy="98.2" r="2.9"/>
<circle cx="475.1" cy="114.3" r="2.9"/>
<circle cx="475.1" cy="122.3" r="2.9"/>
<circle cx="475.1" cy="127.1" r="2.9"/>
<circle cx="475.1" cy="133.3" r="2.9"/>
<circle cx="475.1" cy="133.3" r="2.9"/>
<circle cx="480.5" cy="90.2" r="2.9"/>
<circle cx="480.5" cy="90.2" r="2.9"/>
<circle cx="480.5" cy="105.5" r="2.9"/>
<circle cx="480.5" cy="114.3" r="2.9"/>
<circle cx="480.5" cy="122.3" r="2.9"/>
<circle cx="480.5" cy="132.5" r="2.9"/>
<circle cx="485.9" cy="90.9" r="2.9"/>
<circle cx="485.9" cy="90.9" r="2.9"/>
<circle cx="485.9" cy="90.9" r="2.9"/>
<circle cx="485.9" cy="115.0" r="2.9"/>
<circle cx="485.9" cy="126.2" r="2.9"/>
<circle cx="491.2" cy="92.4" r="2.9"/>
<circle cx="491.2" cy="99.0" r="2.9"/>
<circle cx="491.2" cy="108.4" r="2.9"/>
<circle cx="491.2" cy="108.4" r="2.9"/>
<circle cx="491.2" cy="108.4" r="2.9"/>
<circle cx="491.2" cy="111.4" r="2.9"/>
<circle cx="491.2" cy="131.1" r="2.9"/>
<circle cx="496.6" cy="99.4" r="2.9"/>
<circle cx="496.6" cy="111.4" r="2.9"/>
<circle cx="496.6" cy="115.0" r="2.9"/>
<circle cx="496.6" cy="115.0" r="2.9"/>
<circle cx="496.6" cy="123.0" r="2.9"/>
<circle cx="496.6" cy="131.8" r="2.9"/>
<circle cx="501.9" cy="107.0" r="2.9"/>
<circle cx="501.9" cy="118.7" r="2.9"/>
<circle cx="501.9" cy="123.0" r="2.9"/>
<circle cx="501.9" cy="131.8" r="2.9"/>
<circle cx="507.3" cy="97.5" r="2.9"/>
<circle cx="507.3" cy="102.6" r="2.9"/>
<circle cx="507.3" cy="102.6" r="2.9"/>
<circle cx="507.3" cy="102.6" r="2.9"/>
<circle cx="507.3" cy="127.1" r="2.9"/>
<circle cx="512.7" cy="95.3" r="2.9"/>
<circle cx="512.7" cy="95.3" r="2.9"/>
<circle cx="512.7" cy="122.3" r="2.9"/>
<circle cx="518.0" cy="89.5" r="2.9"/>
<circle cx="518.0" cy="94.6" r="2.9"/>
<circle cx="518.0" cy="94.6" r="2.9"/>
<circle cx="518.0" cy="99.7" r="2.9"/>
<circle cx="518.0" cy="108.4" r="2.9"/>
<circle cx="523.4" cy="90.2" r="2.9"/>
<circle cx="523.4" cy="90.2" r="2.9"/>
<circle cx="523.4" cy="90.2" r="2.9"/>
<circle cx="523.4" cy="105.5" r="2.9"/>
<circle cx="523.4" cy="105.5" r="2.9"/>
<circle cx="523.4" cy="105.5" r="2.9"/>
<circle cx="523.4" cy="110.6" r="2.9"/>
<circle cx="523.4" cy="120.1" r="2.9"/>
<circle cx="523.4" cy="131.8" r="2.9"/>
<circle cx="523.4" cy="131.8" r="2.9"/>
<circle cx="523.4" cy="131.8" r="2.9"/>
<circle cx="528.8" cy="102.6" r="2.9"/>
<circle cx="528.8" cy="102.6" r="2.9"/>
<circle cx="528.8" cy="106.2" r="2.9"/>
<circle cx="528.8" cy="109.9" r="2.9"/>
<circle cx="534.1" cy="98.2" r="2.9"/>
<circle cx="534.1" cy="98.2" r="2.9"/>
<circle cx="534.1" cy="98.2" r="2.9"/>
<circle cx="534.1" cy="103.3" r="2.9"/>
<circle cx="534.1" cy="110.6" r="2.9"/>
<circle cx="534.1" cy="117.9" r="2.9"/>
<circle cx="534.1" cy="123.8" r="2.9"/>
<circle cx="534.1" cy="134.7" r="2.9"/>
<circle cx="539.5" cy="89.5" r="2.9"/>
<circle cx="539.5" cy="89.5" r="2.9"/>
<circle cx="539.5" cy="95.3" r="2.9"/>
<circle cx="539.5" cy="95.3" r="2.9"/>
<circle cx="539.5" cy="102.6" r="2.9"/>
<circle cx="539.5" cy="108.4" r="2.9"/>
<circle cx="539.5" cy="114.3" r="2.9"/>
<circle cx="539.5" cy="114.3" r="2.9"/>
<circle cx="539.5" cy="114.3" r="2.9"/>
<circle cx="539.5" cy="133.3" r="2.9"/>
<circle cx="544.9" cy="89.5" r="2.9"/>
<circle cx="544.9" cy="89.5" r="2.9"/>
<circle cx="544.9" cy="102.6" r="2.9"/>
<circle cx="544.9" cy="102.6" r="2.9"/>
<circle cx="544.9" cy="106.2" r="2.9"/>
<circle cx="544.9" cy="106.2" r="2.9"/>
<circle cx="544.9" cy="106.2" r="2.9"/>
<circle cx="544.9" cy="123.0" r="2.9"/>
<circle cx="544.9" cy="123.0" r="2.9"/>
<circle cx="544.9" cy="123.0" r="2.9"/>
<circle cx="544.9" cy="126.2" r="2.9"/>
<circle cx="544.9" cy="126.2" r="2.9"/>
<circle cx="550.3" cy="99.0" r="2.9"/>
<circle cx="550.3" cy="99.0" r="2.9"/>
<circle cx="550.3" cy="102.6" r="2.9"/>
<circle cx="550.3" cy="102.6" r="2.9"/>
<circle cx="550.3" cy="102.6" r="2.9"/>
<circle cx="550.3" cy="124.5" r="2.9"/>
<circle cx="550.3" cy="129.6" r="2.9"/>
<circle cx="555.6" cy="101.1" r="2.9"/>
<circle cx="555.6" cy="101.1" r="2.9"/>
<circle cx="555.6" cy="101.1" r="2.9"/>
<circle cx="555.6" cy="107.0" r="2.9"/>
<circle cx="555.6" cy="107.0" r="2.9"/>
<circle cx="555.6" cy="114.3" r="2.9"/>
<circle cx="555.6" cy="114.3" r="2.9"/>
<circle cx="555.6" cy="119.4" r="2.9"/>
<circle cx="555.6" cy="131.1" r="2.9"/>
<circle cx="561.0" cy="90.2" r="2.9"/>
<circle cx="561.0" cy="99.0" r="2.9"/>
<circle cx="561.0" cy="99.0" r="2.9"/>
<circle cx="561.0" cy="99.0" r="2.9"/>
<circle cx="561.0" cy="105.5" r="2.9"/>
<circle cx="561.0" cy="105.5" r="2.9"/>
<circle cx="561.0" cy="110.6" r="2.9"/>
<circle cx="561.0" cy="118.7" r="2.9"/>
<circle cx="561.0" cy="118.7" r="2.9"/>
<circle cx="561.0" cy="123.0" r="2.9"/>
<circle cx="561.0" cy="126.7" r="2.9"/>
<circle cx="561.0" cy="126.7" r="2.9"/>
<circle cx="566.4" cy="89.5" r="2.9"/>
<circle cx="566.4" cy="89.5" r="2.9"/>
<circle cx="566.4" cy="99.0" r="2.9"/>
<circle cx="566.4" cy="109.9" r="2.9"/>
<circle cx="566.4" cy="130.3" r="2.9"/>
<circle cx="571.7" cy="95.3" r="2.9"/>
<circle cx="571.7" cy="100.4" r="2.9"/>
<circle cx="571.7" cy="109.9" r="2.9"/>
<circle cx="571.7" cy="109.9" r="2.9"/>
<circle cx="571.7" cy="109.9" r="2.9"/>
<circle cx="571.7" cy="115.0" r="2.9"/>
<circle cx="571.7" cy="131.1" r="2.9"/>
<circle cx="577.1" cy="104.8" r="2.9"/>
<circle cx="577.1" cy="104.8" r="2.9"/>
<circle cx="577.1" cy="119.4" r="2.9"/>
<circle cx="577.1" cy="119.4" r="2.9"/>
<circle cx="582.5" cy="89.5" r="2.9"/>
<circle cx="582.5" cy="96.8" r="2.9"/>
<circle cx="582.5" cy="96.8" r="2.9"/>
<circle cx="582.5" cy="96.8" r="2.9"/>
<circle cx="582.5" cy="107.7" r="2.9"/>
<circle cx="582.5" cy="107.7" r="2.9"/>
<circle cx="582.5" cy="119.4" r="2.9"/>
<circle cx="582.5" cy="119.4" r="2.9"/>
<circle cx="582.5" cy="131.1" r="2.9"/>
<circle cx="582.5" cy="131.1" r="2.9"/>
<circle cx="582.5" cy="131.1" r="2.9"/>
<circle cx="587.8" cy="94.6" r="2.9"/>
<circle cx="587.8" cy="111.4" r="2.9"/>
<circle cx="587.8" cy="111.4" r="2.9"/>
<circle cx="587.8" cy="115.0" r="2.9"/>
<circle cx="587.8" cy="123.8" r="2.9"/>
<circle cx="587.8" cy="123.8" r="2.9"/>
<circle cx="587.8" cy="131.8" r="2.9"/>
<circle cx="593.2" cy="97.5" r="2.9"/>
<circle cx="593.2" cy="105.5" r="2.9"/>
<circle cx="593.2" cy="105.5" r="2.9"/>
<circle cx="593.2" cy="105.5" r="2.9"/>
<circle cx="593.2" cy="108.4" r="2.9"/>
<circle cx="593.2" cy="108.4" r="2.9"/>
<circle cx="593.2" cy="122.3" r="2.9"/>
<circle cx="598.6" cy="95.3" r="2.9"/>
<circle cx="598.6" cy="98.2" r="2.9"/>
<circle cx="598.6" cy="98.2" r="2.9"/>
<circle cx="598.6" cy="109.9" r="2.9"/>
<circle cx="598.6" cy="109.9" r="2.9"/>
<circle cx="598.6" cy="115.7" r="2.9"/>
<circle cx="598.6" cy="115.7" r="2.9"/>
<circle cx="598.6" cy="134.7" r="2.9"/>
<circle cx="603.9" cy="90.9" r="2.9"/>
<circle cx="603.9" cy="96.8" r="2.9"/>
<circle cx="603.9" cy="101.9" r="2.9"/>
<circle cx="603.9" cy="101.9" r="2.9"/>
<circle cx="603.9" cy="106.2" r="2.9"/>
<circle cx="603.9" cy="110.6" r="2.9"/>
<circle cx="603.9" cy="133.3" r="2.9"/>
<circle cx="609.3" cy="89.5" r="2.9"/>
<circle cx="609.3" cy="89.5" r="2.9"/>
<circle cx="609.3" cy="98.2" r="2.9"/>
<circle cx="609.3" cy="101.9" r="2.9"/>
<circle cx="609.3" cy="110.6" r="2.9"/>
<circle cx="609.3" cy="110.6" r="2.9"/>
<circle cx="609.3" cy="124.5" r="2.9"/>
<circle cx="609.3" cy="127.4" r="2.9"/>
<circle cx="609.3" cy="127.4" r="2.9"/>
<circle cx="609.3" cy="131.8" r="2.9"/>
<circle cx="614.7" cy="90.9" r="2.9"/>
<circle cx="614.7" cy="90.9" r="2.9"/>
<circle cx="614.7" cy="90.9" r="2.9"/>
<circle cx="614.7" cy="96.0" r="2.9"/>
<circle cx="614.7" cy="96.0" r="2.9"/>
<circle cx="614.7" cy="99.7" r="2.9"/>
<circle cx="614.7" cy="109.9" r="2.9"/>
<circle cx="614.7" cy="109.9" r="2.9"/>
<circle cx="614.7" cy="122.3" r="2.9"/>
<circle cx="614.7" cy="126.2" r="2.9"/>
<circle cx="620.0" cy="92.4" r="2.9"/>
<circle cx="620.0" cy="104.1" r="2.9"/>
<circle cx="620.0" cy="104.1" r="2.9"/>
<circle cx="620.0" cy="119.4" r="2.9"/>
<circle cx="620.0" cy="123.8" r="2.9"/>
<circle cx="620.0" cy="123.8" r="2.9"/>
<circle cx="620.0" cy="127.4" r="2.9"/>
<circle cx="620.0" cy="133.3" r="2.9"/>
<circle cx="625.4" cy="90.2" r="2.9"/>
<circle cx="625.4" cy="90.2" r="2.9"/>
<circle cx="625.4" cy="95.3" r="2.9"/>
<circle cx="625.4" cy="112.8" r="2.9"/>
<circle cx="625.4" cy="116.5" r="2.9"/>
<circle cx="625.4" cy="116.5" r="2.9"/>
<circle cx="625.4" cy="131.1" r="2.9"/>
<circle cx="625.4" cy="131.1" r="2.9"/>
<circle cx="630.8" cy="89.5" r="2.9"/>
<circle cx="630.8" cy="97.5" r="2.9"/>
<circle cx="630.8" cy="99.7" r="2.9"/>
<circle cx="630.8" cy="109.9" r="2.9"/>
<circle cx="630.8" cy="126.7" r="2.9"/>
<circle cx="630.8" cy="134.7" r="2.9"/>
<circle cx="636.1" cy="93.1" r="2.9"/>
<circle cx="636.1" cy="93.1" r="2.9"/>
<circle cx="636.1" cy="93.1" r="2.9"/>
<circle cx="636.1" cy="100.4" r="2.9"/>
<circle cx="636.1" cy="105.5" r="2.9"/>
<circle cx="636.1" cy="109.9" r="2.9"/>
<circle cx="636.1" cy="109.9" r="2.9"/>
<circle cx="636.1" cy="134.7" r="2.9"/>
<circle cx="641.5" cy="98.2" r="2.9"/>
<circle cx="641.5" cy="98.2" r="2.9"/>
<circle cx="641.5" cy="98.2" r="2.9"/>
<circle cx="641.5" cy="126.2" r="2.9"/>
<circle cx="641.5" cy="131.8" r="2.9"/>
<circle cx="641.5" cy="131.8" r="2.9"/>
<circle cx="641.5" cy="134.7" r="2.9"/>
<circle cx="641.5" cy="134.7" r="2.9"/>
<circle cx="646.9" cy="102.6" r="2.9"/>
<circle cx="646.9" cy="102.6" r="2.9"/>
<circle cx="646.9" cy="107.0" r="2.9"/>
<circle cx="646.9" cy="107.0" r="2.9"/>
<circle cx="646.9" cy="109.9" r="2.9"/>
<circle cx="646.9" cy="109.9" r="2.9"/>
<circle cx="646.9" cy="117.9" r="2.9"/>
<circle cx="646.9" cy="134.7" r="2.9"/>
<circle cx="652.2" cy="119.0" r="2.9"/>
<circle cx="652.2" cy="119.0" r="2.9"/>
<circle cx="652.2" cy="119.0" r="2.9"/>
<circle cx="652.2" cy="130.3" r="2.9"/>
<circle cx="657.6" cy="128.2" r="2.9"/>
<circle cx="657.6" cy="128.2" r="2.9"/>
<circle cx="657.6" cy="131.8" r="2.9"/>
<circle cx="657.6" cy="131.8" r="2.9"/>
<circle cx="416.1" cy="166.7" r="2.9"/>
<circle cx="416.1" cy="174.7" r="2.9"/>
<circle cx="416.1" cy="174.7" r="2.9"/>
<circle cx="416.1" cy="178.3" r="2.9"/>
<circle cx="416.1" cy="178.3" r="2.9"/>
<circle cx="416.1" cy="178.3" r="2.9"/>
<circle cx="416.1" cy="182.0" r="2.9"/>
<circle cx="416.1" cy="182.0" r="2.9"/>
<circle cx="421.4" cy="149.9" r="2.9"/>
<circle cx="421.4" cy="149.9" r="2.9"/>
<circle cx="421.4" cy="160.8" r="2.9"/>
<circle cx="421.4" cy="160.8" r="2.9"/>
<circle cx="421.4" cy="171.0" r="2.9"/>
<circle cx="421.4" cy="171.0" r="2.9"/>
<circle cx="421.4" cy="171.0" r="2.9"/>
<circle cx="421.4" cy="178.3" r="2.9"/>
<circle cx="421.4" cy="178.3" r="2.9"/>
<circle cx="421.4" cy="182.7" r="2.9"/>
<circle cx="426.8" cy="139.7" r="2.9"/>
<circle cx="426.8" cy="146.9" r="2.9"/>
<circle cx="426.8" cy="146.9" r="2.9"/>
<circle cx="426.8" cy="150.6" r="2.9"/>
<circle cx="426.8" cy="157.9" r="2.9"/>
<circle cx="426.8" cy="161.6" r="2.9"/>
<circle cx="426.8" cy="175.4" r="2.9"/>
<circle cx="426.8" cy="181.3" r="2.9"/>
<circle cx="426.8" cy="181.3" r="2.9"/>
<circle cx="432.2" cy="137.5" r="2.9"/>
<circle cx="432.2" cy="152.1" r="2.9"/>
<circle cx="432.2" cy="152.1" r="2.9"/>
<circle cx="432.2" cy="152.1" r="2.9"/>
<circle cx="432.2" cy="155.7" r="2.9"/>
<circle cx="432.2" cy="164.5" r="2.9"/>
<circle cx="432.2" cy="164.5" r="2.9"/>
<circle cx="432.2" cy="174.2" r="2.9"/>
<circle cx="432.2" cy="181.3" r="2.9"/>
<circle cx="437.5" cy="136.7" r="2.9"/>
<circle cx="437.5" cy="146.9" r="2.9"/>
<circle cx="437.5" cy="146.9" r="2.9"/>
<circle cx="437.5" cy="155.0" r="2.9"/>
<circle cx="437.5" cy="160.1" r="2.9"/>
<circle cx="437.5" cy="170.3" r="2.9"/>
<circle cx="437.5" cy="175.1" r="2.9"/>
<circle cx="437.5" cy="175.1" r="2.9"/>
<circle cx="437.5" cy="180.5" r="2.9"/>
<circle cx="437.5" cy="180.5" r="2.9"/>
<circle cx="442.9" cy="149.9" r="2.9"/>
<circle cx="442.9" cy="156.4" r="2.9"/>
<circle cx="442.9" cy="156.4" r="2.9"/>
<circle cx="442.9" cy="159.4" r="2.9"/>
<circle cx="448.3" cy="138.9" r="2.9"/>
<circle cx="448.3" cy="141.8" r="2.9"/>
<circle cx="448.3" cy="146.9" r="2.9"/>
<circle cx="448.3" cy="157.2" r="2.9"/>
<circle cx="448.3" cy="170.3" r="2.9"/>
<circle cx="448.3" cy="170.3" r="2.9"/>
<circle cx="453.6" cy="146.2" r="2.9"/>
<circle cx="453.6" cy="146.2" r="2.9"/>
<circle cx="453.6" cy="149.9" r="2.9"/>
<circle cx="453.6" cy="163.4" r="2.9"/>
<circle cx="453.6" cy="182.7" r="2.9"/>
<circle cx="459.0" cy="141.8" r="2.9"/>
<circle cx="459.0" cy="155.0" r="2.9"/>
<circle cx="459.0" cy="171.8" r="2.9"/>
<circle cx="459.0" cy="178.3" r="2.9"/>
<circle cx="464.4" cy="151.3" r="2.9"/>
<circle cx="464.4" cy="151.3" r="2.9"/>
<circle cx="469.8" cy="178.3" r="2.9"/>
<circle cx="469.8" cy="178.3" r="2.9"/>
<circle cx="469.8" cy="181.3" r="2.9"/>
<circle cx="475.1" cy="150.6" r="2.9"/>
<circle cx="475.1" cy="158.6" r="2.9"/>
<circle cx="475.1" cy="169.3" r="2.9"/>
<circle cx="475.1" cy="179.8" r="2.9"/>
<circle cx="480.5" cy="144.0" r="2.9"/>
<circle cx="480.5" cy="154.2" r="2.9"/>
<circle cx="485.9" cy="138.9" r="2.9"/>
<circle cx="485.9" cy="138.9" r="2.9"/>
<circle cx="485.9" cy="174.7" r="2.9"/>
<circle cx="485.9" cy="179.8" r="2.9"/>
<circle cx="491.2" cy="156.4" r="2.9"/>
<circle cx="491.2" cy="166.7" r="2.9"/>
<circle cx="496.6" cy="171.0" r="2.9"/>
<circle cx="496.6" cy="171.0" r="2.9"/>
<circle cx="496.6" cy="174.2" r="2.9"/>
<circle cx="496.6" cy="174.2" r="2.9"/>
<circle cx="496.6" cy="178.3" r="2.9"/>
<circle cx="501.9" cy="155.7" r="2.9"/>
<circle cx="501.9" cy="167.4" r="2.9"/>
<circle cx="501.9" cy="172.5" r="2.9"/>
<circle cx="501.9" cy="176.2" r="2.9"/>
<circle cx="501.9" cy="176.2" r="2.9"/>
<circle cx="501.9" cy="179.8" r="2.9"/>
<circle cx="507.3" cy="149.9" r="2.9"/>
<circle cx="507.3" cy="149.9" r="2.9"/>
<circle cx="507.3" cy="149.9" r="2.9"/>
<circle cx="507.3" cy="163.0" r="2.9"/>
<circle cx="507.3" cy="167.4" r="2.9"/>
<circle cx="507.3" cy="167.4" r="2.9"/>
<circle cx="507.3" cy="170.3" r="2.9"/>
<circle cx="507.3" cy="179.1" r="2.9"/>
<circle cx="512.7" cy="163.0" r="2.9"/>
<circle cx="512.7" cy="163.0" r="2.9"/>
<circle cx="512.7" cy="169.6" r="2.9"/>
<circle cx="518.0" cy="143.3" r="2.9"/>
<circle cx="518.0" cy="151.3" r="2.9"/>
<circle cx="518.0" cy="151.3" r="2.9"/>
<circle cx="518.0" cy="151.3" r="2.9"/>
<circle cx="518.0" cy="158.6" r="2.9"/>
<circle cx="518.0" cy="167.4" r="2.9"/>
<circle cx="518.0" cy="170.3" r="2.9"/>
<circle cx="518.0" cy="170.3" r="2.9"/>
<circle cx="523.4" cy="155.7" r="2.9"/>
<circle cx="523.4" cy="155.7" r="2.9"/>
<circle cx="523.4" cy="155.7" r="2.9"/>
<circle cx="523.4" cy="163.7" r="2.9"/>
<circle cx="523.4" cy="166.7" r="2.9"/>
<circle cx="523.4" cy="166.7" r="2.9"/>
<circle cx="523.4" cy="176.2" r="2.9"/>
<circle cx="523.4" cy="182.7" r="2.9"/>
<circle cx="528.8" cy="141.8" r="2.9"/>
<circle cx="528.8" cy="141.8" r="2.9"/>
<circle cx="528.8" cy="141.8" r="2.9"/>
<circle cx="528.8" cy="148.4" r="2.9"/>
<circle cx="528.8" cy="155.0" r="2.9"/>
<circle cx="528.8" cy="159.4" r="2.9"/>
<circle cx="528.8" cy="170.3" r="2.9"/>
<circle cx="528.8" cy="170.3" r="2.9"/>
<circle cx="528.8" cy="173.2" r="2.9"/>
<circle cx="528.8" cy="173.2" r="2.9"/>
<circle cx="528.8" cy="173.2" r="2.9"/>
<circle cx="528.8" cy="182.7" r="2.9"/>
<circle cx="534.1" cy="137.5" r="2.9"/>
<circle cx="534.1" cy="137.5" r="2.9"/>
<circle cx="534.1" cy="143.3" r="2.9"/>
<circle cx="534.1" cy="149.1" r="2.9"/>
<circle cx="534.1" cy="155.7" r="2.9"/>
<circle cx="534.1" cy="163.7" r="2.9"/>
<circle cx="534.1" cy="180.5" r="2.9"/>
<circle cx="534.1" cy="180.5" r="2.9"/>
<circle cx="544.9" cy="141.1" r="2.9"/>
<circle cx="544.9" cy="141.1" r="2.9"/>
<circle cx="544.9" cy="141.1" r="2.9"/>
<circle cx="544.9" cy="162.3" r="2.9"/>
<circle cx="544.9" cy="166.7" r="2.9"/>
<circle cx="544.9" cy="175.4" r="2.9"/>
<circle cx="544.9" cy="175.4" r="2.9"/>
<circle cx="544.9" cy="179.1" r="2.9"/>
<circle cx="544.9" cy="179.1" r="2.9"/>
<circle cx="544.9" cy="179.1" r="2.9"/>
<circle cx="550.3" cy="155.0" r="2.9"/>
<circle cx="550.3" cy="155.0" r="2.9"/>
<circle cx="550.3" cy="155.0" r="2.9"/>
<circle cx="550.3" cy="169.6" r="2.9"/>
<circle cx="550.3" cy="174.7" r="2.9"/>
<circle cx="550.3" cy="179.1" r="2.9"/>
<circle cx="555.6" cy="137.5" r="2.9"/>
<circle cx="555.6" cy="154.2" r="2.9"/>
<circle cx="555.6" cy="181.3" r="2.9"/>
<circle cx="561.0" cy="142.6" r="2.9"/>
<circle cx="561.0" cy="142.6" r="2.9"/>
<circle cx="561.0" cy="142.6" r="2.9"/>
<circle cx="561.0" cy="156.4" r="2.9"/>
<circle cx="561.0" cy="163.4" r="2.9"/>
<circle cx="561.0" cy="169.6" r="2.9"/>
<circle cx="566.4" cy="143.3" r="2.9"/>
<circle cx="566.4" cy="146.9" r="2.9"/>
<circle cx="566.4" cy="160.8" r="2.9"/>
<circle cx="566.4" cy="168.8" r="2.9"/>
<circle cx="566.4" cy="168.8" r="2.9"/>
<circle cx="566.4" cy="168.8" r="2.9"/>
<circle cx="566.4" cy="182.7" r="2.9"/>
<circle cx="566.4" cy="182.7" r="2.9"/>
<circle cx="566.4" cy="182.7" r="2.9"/>
<circle cx="571.7" cy="158.6" r="2.9"/>
<circle cx="571.7" cy="158.6" r="2.9"/>
<circle cx="571.7" cy="163.0" r="2.9"/>
<circle cx="571.7" cy="163.0" r="2.9"/>
<circle cx="571.7" cy="163.0" r="2.9"/>
<circle cx="571.7" cy="165.9" r="2.9"/>
<circle cx="571.7" cy="165.9" r="2.9"/>
<circle cx="571.7" cy="174.7" r="2.9"/>
<circle cx="571.7" cy="179.8" r="2.9"/>
<circle cx="577.1" cy="146.2" r="2.9"/>
<circle cx="577.1" cy="146.2" r="2.9"/>
<circle cx="577.1" cy="153.5" r="2.9"/>
<circle cx="577.1" cy="153.5" r="2.9"/>
<circle cx="582.5" cy="149.1" r="2.9"/>
<circle cx="587.8" cy="146.9" r="2.9"/>
<circle cx="587.8" cy="153.5" r="2.9"/>
<circle cx="587.8" cy="153.5" r="2.9"/>
<circle cx="587.8" cy="157.9" r="2.9"/>
<circle cx="587.8" cy="157.9" r="2.9"/>
<circle cx="593.2" cy="142.6" r="2.9"/>
<circle cx="593.2" cy="158.6" r="2.9"/>
<circle cx="593.2" cy="165.2" r="2.9"/>
<circle cx="598.6" cy="137.5" r="2.9"/>
<circle cx="598.6" cy="178.3" r="2.9"/>
<circle cx="598.6" cy="183.4" r="2.9"/>
<circle cx="598.6" cy="183.4" r="2.9"/>
<circle cx="603.9" cy="150.6" r="2.9"/>
<circle cx="603.9" cy="150.6" r="2.9"/>
<circle cx="603.9" cy="150.6" r="2.9"/>
<circle cx="603.9" cy="157.2" r="2.9"/>
<circle cx="603.9" cy="157.2" r="2.9"/>
<circle cx="603.9" cy="157.2" r="2.9"/>
<circle cx="609.3" cy="176.9" r="2.9"/>
<circle cx="609.3" cy="176.9" r="2.9"/>
<circle cx="614.7" cy="138.9" r="2.9"/>
<circle cx="614.7" cy="143.3" r="2.9"/>
<circle cx="614.7" cy="165.2" r="2.9"/>
<circle cx="620.0" cy="144.8" r="2.9"/>
<circle cx="620.0" cy="174.2" r="2.9"/>
<circle cx="620.0" cy="174.2" r="2.9"/>
<circle cx="620.0" cy="174.2" r="2.9"/>
<circle cx="620.0" cy="178.3" r="2.9"/>
<circle cx="620.0" cy="178.3" r="2.9"/>
<circle cx="620.0" cy="178.3" r="2.9"/>
<circle cx="625.4" cy="143.3" r="2.9"/>
<circle cx="625.4" cy="143.3" r="2.9"/>
<circle cx="625.4" cy="143.3" r="2.9"/>
<circle cx="625.4" cy="158.6" r="2.9"/>
<circle cx="625.4" cy="173.2" r="2.9"/>
<circle cx="625.4" cy="173.2" r="2.9"/>
<circle cx="625.4" cy="180.5" r="2.9"/>
<circle cx="630.8" cy="136.7" r="2.9"/>
<circle cx="630.8" cy="163.7" r="2.9"/>
<circle cx="630.8" cy="163.7" r="2.9"/>
<circle cx="630.8" cy="163.7" r="2.9"/>
<circle cx="630.8" cy="165.9" r="2.9"/>
<circle cx="630.8" cy="165.9" r="2.9"/>
<circle cx="630.8" cy="172.5" r="2.9"/>
<circle cx="636.1" cy="136.7" r="2.9"/>
<circle cx="636.1" cy="142.6" r="2.9"/>
<circle cx="636.1" cy="150.6" r="2.9"/>
<circle cx="636.1" cy="156.4" r="2.9"/>
<circle cx="636.1" cy="156.4" r="2.9"/>
<circle cx="636.1" cy="156.4" r="2.9"/>
<circle cx="641.5" cy="136.7" r="2.9"/>
<circle cx="641.5" cy="136.7" r="2.9"/>
<circle cx="641.5" cy="145.5" r="2.9"/>
<circle cx="641.5" cy="145.5" r="2.9"/>
<circle cx="641.5" cy="149.1" r="2.9"/>
<circle cx="641.5" cy="159.4" r="2.9"/>
<circle cx="641.5" cy="163.0" r="2.9"/>
<circle cx="646.9" cy="146.9" r="2.9"/>
<circle cx="646.9" cy="155.0" r="2.9"/>
<circle cx="646.9" cy="155.0" r="2.9"/>
<circle cx="646.9" cy="155.0" r="2.9"/>
<circle cx="646.9" cy="157.2" r="2.9"/>
<circle cx="646.9" cy="157.2" r="2.9"/>
<circle cx="646.9" cy="169.6" r="2.9"/>
<circle cx="652.2" cy="150.6" r="2.9"/>
<circle cx="652.2" cy="155.7" r="2.9"/>
<circle cx="652.2" cy="164.0" r="2.9"/>
<circle cx="652.2" cy="164.0" r="2.9"/>
<circle cx="652.2" cy="164.0" r="2.9"/>
<circle cx="652.2" cy="172.5" r="2.9"/>
<circle cx="652.2" cy="182.7" r="2.9"/>
<circle cx="652.2" cy="182.7" r="2.9"/>
<circle cx="657.6" cy="136.7" r="2.9"/>
<circle cx="657.6" cy="142.6" r="2.9"/>
<circle cx="657.6" cy="160.8" r="2.9"/>
<circle cx="657.6" cy="160.8" r="2.9"/>
<circle cx="657.6" cy="166.7" r="2.9"/>
<circle cx="657.6" cy="171.8" r="2.9"/>
<circle cx="657.6" cy="171.8" r="2.9"/>
<circle cx="657.6" cy="178.3" r="2.9"/>
<circle cx="657.6" cy="178.3" r="2.9"/>
<circle cx="657.6" cy="181.3" r="2.9"/>
<circle cx="657.6" cy="181.3" r="2.9"/>
<circle cx="663.0" cy="150.6" r="2.9"/>
<circle cx="663.0" cy="160.8" r="2.9"/>
<circle cx="663.0" cy="165.2" r="2.9"/>
<circle cx="663.0" cy="172.5" r="2.9"/>
<circle cx="663.0" cy="175.4" r="2.9"/>
<circle cx="663.0" cy="175.4" r="2.9"/>
<circle cx="663.0" cy="181.3" r="2.9"/>
<circle cx="663.0" cy="181.3" r="2.9"/>
<circle cx="663.0" cy="181.3" r="2.9"/>
<circle cx="668.3" cy="162.3" r="2.9"/>
<circle cx="668.3" cy="178.3" r="2.9"/>
<circle cx="410.7" cy="208.1" r="2.9"/>
<circle cx="416.1" cy="186.2" r="2.9"/>
<circle cx="416.1" cy="186.2" r="2.9"/>
<circle cx="416.1" cy="186.2" r="2.9"/>
<circle cx="416.1" cy="190.6" r="2.9"/>
<circle cx="416.1" cy="190.6" r="2.9"/>
<circle cx="416.1" cy="190.6" r="2.9"/>
<circle cx="416.1" cy="194.2" r="2.9"/>
<circle cx="416.1" cy="194.2" r="2.9"/>
<circle cx="416.1" cy="194.2" r="2.9"/>
<circle cx="416.1" cy="197.9" r="2.9"/>
<circle cx="416.1" cy="197.9" r="2.9"/>
<circle cx="416.1" cy="205.9" r="2.9"/>
<circle cx="416.1" cy="213.2" r="2.9"/>
<circle cx="416.1" cy="213.2" r="2.9"/>
<circle cx="416.1" cy="222.0" r="2.9"/>
<circle cx="416.1" cy="222.0" r="2.9"/>
<circle cx="416.1" cy="227.1" r="2.9"/>
<circle cx="416.1" cy="227.1" r="2.9"/>
<circle cx="416.1" cy="227.1" r="2.9"/>
<circle cx="416.1" cy="230.7" r="2.9"/>
<circle cx="416.1" cy="230.7" r="2.9"/>
<circle cx="421.4" cy="186.9" r="2.9"/>
<circle cx="421.4" cy="186.9" r="2.9"/>
<circle cx="421.4" cy="186.9" r="2.9"/>
<circle cx="421.4" cy="193.5" r="2.9"/>
<circle cx="421.4" cy="193.5" r="2.9"/>
<circle cx="421.4" cy="200.1" r="2.9"/>
<circle cx="421.4" cy="200.1" r="2.9"/>
<circle cx="421.4" cy="200.1" r="2.9"/>
<circle cx="421.4" cy="203.7" r="2.9"/>
<circle cx="421.4" cy="203.7" r="2.9"/>
<circle cx="421.4" cy="203.7" r="2.9"/>
<circle cx="421.4" cy="219.0" r="2.9"/>
<circle cx="421.4" cy="224.2" r="2.9"/>
<circle cx="426.8" cy="189.1" r="2.9"/>
<circle cx="426.8" cy="198.6" r="2.9"/>
<circle cx="426.8" cy="198.6" r="2.9"/>
<circle cx="426.8" cy="207.4" r="2.9"/>
<circle cx="426.8" cy="207.4" r="2.9"/>
<circle cx="426.8" cy="207.4" r="2.9"/>
<circle cx="426.8" cy="211.0" r="2.9"/>
<circle cx="426.8" cy="211.0" r="2.9"/>
<circle cx="426.8" cy="211.0" r="2.9"/>
<circle cx="426.8" cy="223.4" r="2.9"/>
<circle cx="426.8" cy="223.4" r="2.9"/>
<circle cx="426.8" cy="230.7" r="2.9"/>
<circle cx="426.8" cy="230.7" r="2.9"/>
<circle cx="432.2" cy="189.8" r="2.9"/>
<circle cx="432.2" cy="189.8" r="2.9"/>
<circle cx="432.2" cy="198.6" r="2.9"/>
<circle cx="432.2" cy="214.7" r="2.9"/>
<circle cx="432.2" cy="219.0" r="2.9"/>
<circle cx="432.2" cy="228.5" r="2.9"/>
<circle cx="432.2" cy="228.5" r="2.9"/>
<circle cx="432.2" cy="228.5" r="2.9"/>
<circle cx="437.5" cy="184.7" r="2.9"/>
<circle cx="437.5" cy="210.3" r="2.9"/>
<circle cx="437.5" cy="219.0" r="2.9"/>
<circle cx="437.5" cy="225.6" r="2.9"/>
<circle cx="437.5" cy="225.6" r="2.9"/>
<circle cx="437.5" cy="225.6" r="2.9"/>
<circle cx="437.5" cy="227.8" r="2.9"/>
<circle cx="437.5" cy="227.8" r="2.9"/>
<circle cx="437.5" cy="227.8" r="2.9"/>
<circle cx="442.9" cy="190.6" r="2.9"/>
<circle cx="442.9" cy="190.6" r="2.9"/>
<circle cx="442.9" cy="194.2" r="2.9"/>
<circle cx="442.9" cy="194.2" r="2.9"/>
<circle cx="442.9" cy="194.2" r="2.9"/>
<circle cx="442.9" cy="198.6" r="2.9"/>
<circle cx="442.9" cy="198.6" r="2.9"/>
<circle cx="442.9" cy="208.1" r="2.9"/>
<circle cx="442.9" cy="216.8" r="2.9"/>
<circle cx="442.9" cy="223.1" r="2.9"/>
<circle cx="442.9" cy="227.8" r="2.9"/>
<circle cx="442.9" cy="227.8" r="2.9"/>
<circle cx="448.3" cy="191.0" r="2.9"/>
<circle cx="448.3" cy="191.0" r="2.9"/>
<circle cx="448.3" cy="195.7" r="2.9"/>
<circle cx="448.3" cy="216.8" r="2.9"/>
<circle cx="448.3" cy="216.8" r="2.9"/>
<circle cx="448.3" cy="219.8" r="2.9"/>
<circle cx="448.3" cy="219.8" r="2.9"/>
<circle cx="453.6" cy="185.5" r="2.9"/>
<circle cx="453.6" cy="190.6" r="2.9"/>
<circle cx="453.6" cy="214.7" r="2.9"/>
<circle cx="453.6" cy="222.0" r="2.9"/>
<circle cx="453.6" cy="222.0" r="2.9"/>
<circle cx="453.6" cy="227.1" r="2.9"/>
<circle cx="459.0" cy="187.7" r="2.9"/>
<circle cx="459.0" cy="187.7" r="2.9"/>
<circle cx="459.0" cy="205.2" r="2.9"/>
<circle cx="459.0" cy="213.9" r="2.9"/>
<circle cx="459.0" cy="219.0" r="2.9"/>
<circle cx="459.0" cy="223.7" r="2.9"/>
<circle cx="459.0" cy="223.7" r="2.9"/>
<circle cx="464.4" cy="191.0" r="2.9"/>
<circle cx="464.4" cy="208.1" r="2.9"/>
<circle cx="464.4" cy="219.8" r="2.9"/>
<circle cx="464.4" cy="219.8" r="2.9"/>
<circle cx="464.4" cy="228.5" r="2.9"/>
<circle cx="469.8" cy="186.2" r="2.9"/>
<circle cx="469.8" cy="210.0" r="2.9"/>
<circle cx="469.8" cy="228.5" r="2.9"/>
<circle cx="469.8" cy="228.5" r="2.9"/>
<circle cx="475.1" cy="190.6" r="2.9"/>
<circle cx="475.1" cy="222.2" r="2.9"/>
<circle cx="475.1" cy="228.5" r="2.9"/>
<circle cx="480.5" cy="194.9" r="2.9"/>
<circle cx="480.5" cy="204.4" r="2.9"/>
<circle cx="480.5" cy="204.4" r="2.9"/>
<circle cx="480.5" cy="211.0" r="2.9"/>
<circle cx="485.9" cy="204.4" r="2.9"/>
<circle cx="485.9" cy="211.7" r="2.9"/>
<circle cx="485.9" cy="211.7" r="2.9"/>
<circle cx="485.9" cy="214.7" r="2.9"/>
<circle cx="491.2" cy="189.8" r="2.9"/>
<circle cx="491.2" cy="199.3" r="2.9"/>
<circle cx="491.2" cy="199.3" r="2.9"/>
<circle cx="491.2" cy="222.7" r="2.9"/>
<circle cx="491.2" cy="222.7" r="2.9"/>
<circle cx="491.2" cy="229.3" r="2.9"/>
<circle cx="491.2" cy="229.3" r="2.9"/>
<circle cx="496.6" cy="210.3" r="2.9"/>
<circle cx="496.6" cy="216.8" r="2.9"/>
<circle cx="496.6" cy="230.7" r="2.9"/>
<circle cx="501.9" cy="188.4" r="2.9"/>
<circle cx="501.9" cy="206.6" r="2.9"/>
<circle cx="501.9" cy="206.6" r="2.9"/>
<circle cx="501.9" cy="226.3" r="2.9"/>
<circle cx="501.9" cy="226.3" r="2.9"/>
<circle cx="501.9" cy="230.0" r="2.9"/>
<circle cx="507.3" cy="192.0" r="2.9"/>
<circle cx="507.3" cy="192.0" r="2.9"/>
<circle cx="507.3" cy="197.1" r="2.9"/>
<circle cx="507.3" cy="218.3" r="2.9"/>
<circle cx="512.7" cy="227.8" r="2.9"/>
<circle cx="512.7" cy="227.8" r="2.9"/>
<circle cx="518.0" cy="189.8" r="2.9"/>
<circle cx="518.0" cy="200.8" r="2.9"/>
<circle cx="518.0" cy="210.3" r="2.9"/>
<circle cx="518.0" cy="222.7" r="2.9"/>
<circle cx="518.0" cy="227.1" r="2.9"/>
<circle cx="518.0" cy="227.1" r="2.9"/>
<circle cx="523.4" cy="184.7" r="2.9"/>
<circle cx="523.4" cy="199.3" r="2.9"/>
<circle cx="523.4" cy="206.6" r="2.9"/>
<circle cx="523.4" cy="211.0" r="2.9"/>
<circle cx="523.4" cy="222.7" r="2.9"/>
<circle cx="523.4" cy="230.7" r="2.9"/>
<circle cx="528.8" cy="192.8" r="2.9"/>
<circle cx="528.8" cy="192.8" r="2.9"/>
<circle cx="528.8" cy="206.6" r="2.9"/>
<circle cx="528.8" cy="206.6" r="2.9"/>
<circle cx="528.8" cy="211.0" r="2.9"/>
<circle cx="528.8" cy="211.0" r="2.9"/>
<circle cx="528.8" cy="211.0" r="2.9"/>
<circle cx="528.8" cy="230.7" r="2.9"/>
<circle cx="534.1" cy="201.5" r="2.9"/>
<circle cx="534.1" cy="201.5" r="2.9"/>
<circle cx="534.1" cy="208.8" r="2.9"/>
<circle cx="534.1" cy="215.4" r="2.9"/>
<circle cx="534.1" cy="224.2" r="2.9"/>
<circle cx="534.1" cy="224.2" r="2.9"/>
<circle cx="534.1" cy="224.2" r="2.9"/>
<circle cx="534.1" cy="230.7" r="2.9"/>
<circle cx="539.5" cy="186.9" r="2.9"/>
<circle cx="539.5" cy="194.9" r="2.9"/>
<circle cx="539.5" cy="200.8" r="2.9"/>
<circle cx="539.5" cy="200.8" r="2.9"/>
<circle cx="539.5" cy="206.6" r="2.9"/>
<circle cx="539.5" cy="206.6" r="2.9"/>
<circle cx="539.5" cy="206.6" r="2.9"/>
<circle cx="539.5" cy="216.1" r="2.9"/>
<circle cx="539.5" cy="216.1" r="2.9"/>
<circle cx="539.5" cy="229.3" r="2.9"/>
<circle cx="539.5" cy="229.3" r="2.9"/>
<circle cx="544.9" cy="192.8" r="2.9"/>
<circle cx="544.9" cy="202.2" r="2.9"/>
<circle cx="544.9" cy="216.1" r="2.9"/>
<circle cx="544.9" cy="220.5" r="2.9"/>
<circle cx="544.9" cy="220.5" r="2.9"/>
<circle cx="544.9" cy="224.2" r="2.9"/>
<circle cx="544.9" cy="224.2" r="2.9"/>
<circle cx="544.9" cy="227.8" r="2.9"/>
<circle cx="550.3" cy="188.4" r="2.9"/>
<circle cx="550.3" cy="192.8" r="2.9"/>
<circle cx="550.3" cy="197.1" r="2.9"/>
<circle cx="550.3" cy="205.2" r="2.9"/>
<circle cx="550.3" cy="230.7" r="2.9"/>
<circle cx="550.3" cy="230.7" r="2.9"/>
<circle cx="555.6" cy="202.2" r="2.9"/>
<circle cx="555.6" cy="202.2" r="2.9"/>
<circle cx="555.6" cy="205.2" r="2.9"/>
<circle cx="555.6" cy="218.3" r="2.9"/>
<circle cx="555.6" cy="226.3" r="2.9"/>
<circle cx="561.0" cy="188.4" r="2.9"/>
<circle cx="561.0" cy="218.3" r="2.9"/>
<circle cx="561.0" cy="221.2" r="2.9"/>
<circle cx="561.0" cy="230.0" r="2.9"/>
<circle cx="566.4" cy="185.5" r="2.9"/>
<circle cx="566.4" cy="185.5" r="2.9"/>
<circle cx="566.4" cy="185.5" r="2.9"/>
<circle cx="566.4" cy="197.1" r="2.9"/>
<circle cx="566.4" cy="203.7" r="2.9"/>
<circle cx="566.4" cy="213.2" r="2.9"/>
<circle cx="571.7" cy="191.3" r="2.9"/>
<circle cx="571.7" cy="196.4" r="2.9"/>
<circle cx="571.7" cy="196.4" r="2.9"/>
<circle cx="571.7" cy="213.9" r="2.9"/>
<circle cx="571.7" cy="213.9" r="2.9"/>
<circle cx="571.7" cy="225.6" r="2.9"/>
<circle cx="577.1" cy="205.2" r="2.9"/>
<circle cx="577.1" cy="205.2" r="2.9"/>
<circle cx="582.5" cy="197.1" r="2.9"/>
<circle cx="582.5" cy="197.1" r="2.9"/>
<circle cx="582.5" cy="213.2" r="2.9"/>
<circle cx="582.5" cy="213.2" r="2.9"/>
<circle cx="582.5" cy="223.4" r="2.9"/>
<circle cx="582.5" cy="227.8" r="2.9"/>
<circle cx="587.8" cy="197.1" r="2.9"/>
<circle cx="587.8" cy="203.7" r="2.9"/>
<circle cx="587.8" cy="222.2" r="2.9"/>
<circle cx="587.8" cy="222.2" r="2.9"/>
<circle cx="587.8" cy="226.3" r="2.9"/>
<circle cx="593.2" cy="186.2" r="2.9"/>
<circle cx="593.2" cy="186.2" r="2.9"/>
<circle cx="593.2" cy="186.2" r="2.9"/>
<circle cx="593.2" cy="192.8" r="2.9"/>
<circle cx="593.2" cy="192.8" r="2.9"/>
<circle cx="593.2" cy="203.7" r="2.9"/>
<circle cx="593.2" cy="203.7" r="2.9"/>
<circle cx="593.2" cy="224.9" r="2.9"/>
<circle cx="593.2" cy="224.9" r="2.9"/>
<circle cx="598.6" cy="185.5" r="2.9"/>
<circle cx="598.6" cy="185.5" r="2.9"/>
<circle cx="598.6" cy="191.3" r="2.9"/>
<circle cx="598.6" cy="198.6" r="2.9"/>
<circle cx="598.6" cy="210.3" r="2.9"/>
<circle cx="598.6" cy="220.5" r="2.9"/>
<circle cx="598.6" cy="227.1" r="2.9"/>
<circle cx="603.9" cy="187.7" r="2.9"/>
<circle cx="603.9" cy="187.7" r="2.9"/>
<circle cx="603.9" cy="211.0" r="2.9"/>
<circle cx="603.9" cy="218.3" r="2.9"/>
<circle cx="603.9" cy="218.3" r="2.9"/>
<circle cx="603.9" cy="218.3" r="2.9"/>
<circle cx="609.3" cy="205.9" r="2.9"/>
<circle cx="609.3" cy="205.9" r="2.9"/>
<circle cx="609.3" cy="205.9" r="2.9"/>
<circle cx="609.3" cy="209.6" r="2.9"/>
<circle cx="609.3" cy="209.6" r="2.9"/>
<circle cx="609.3" cy="216.8" r="2.9"/>
<circle cx="609.3" cy="230.7" r="2.9"/>
<circle cx="609.3" cy="230.7" r="2.9"/>
<circle cx="614.7" cy="186.2" r="2.9"/>
<circle cx="614.7" cy="194.2" r="2.9"/>
<circle cx="614.7" cy="197.9" r="2.9"/>
<circle cx="614.7" cy="214.7" r="2.9"/>
<circle cx="614.7" cy="222.7" r="2.9"/>
<circle cx="614.7" cy="222.7" r="2.9"/>
<circle cx="620.0" cy="185.5" r="2.9"/>
<circle cx="620.0" cy="194.9" r="2.9"/>
<circle cx="620.0" cy="201.5" r="2.9"/>
<circle cx="620.0" cy="217.6" r="2.9"/>
<circle cx="620.0" cy="217.6" r="2.9"/>
<circle cx="620.0" cy="224.2" r="2.9"/>
<circle cx="620.0" cy="227.1" r="2.9"/>
<circle cx="620.0" cy="227.1" r="2.9"/>
<circle cx="625.4" cy="194.9" r="2.9"/>
<circle cx="625.4" cy="202.2" r="2.9"/>
<circle cx="625.4" cy="202.2" r="2.9"/>
<circle cx="625.4" cy="205.2" r="2.9"/>
<circle cx="625.4" cy="205.2" r="2.9"/>
<circle cx="625.4" cy="211.0" r="2.9"/>
<circle cx="625.4" cy="216.8" r="2.9"/>
<circle cx="630.8" cy="189.1" r="2.9"/>
<circle cx="630.8" cy="193.5" r="2.9"/>
<circle cx="630.8" cy="198.6" r="2.9"/>
<circle cx="630.8" cy="198.6" r="2.9"/>
<circle cx="630.8" cy="203.0" r="2.9"/>
<circle cx="630.8" cy="216.1" r="2.9"/>
<circle cx="630.8" cy="220.5" r="2.9"/>
<circle cx="630.8" cy="228.5" r="2.9"/>
<circle cx="630.8" cy="228.5" r="2.9"/>
<circle cx="636.1" cy="193.5" r="2.9"/>
<circle cx="636.1" cy="197.1" r="2.9"/>
<circle cx="636.1" cy="197.1" r="2.9"/>
<circle cx="636.1" cy="197.1" r="2.9"/>
<circle cx="636.1" cy="200.8" r="2.9"/>
<circle cx="636.1" cy="207.4" r="2.9"/>
<circle cx="636.1" cy="224.2" r="2.9"/>
<circle cx="636.1" cy="224.2" r="2.9"/>
<circle cx="641.5" cy="197.9" r="2.9"/>
<circle cx="641.5" cy="209.1" r="2.9"/>
<circle cx="641.5" cy="224.9" r="2.9"/>
<circle cx="641.5" cy="224.9" r="2.9"/>
<circle cx="641.5" cy="228.5" r="2.9"/>
<circle cx="646.9" cy="193.9" r="2.9"/>
<circle cx="646.9" cy="193.9" r="2.9"/>
<circle cx="646.9" cy="209.1" r="2.9"/>
<circle cx="646.9" cy="224.9" r="2.9"/>
<circle cx="646.9" cy="224.9" r="2.9"/>
<circle cx="646.9" cy="230.0" r="2.9"/>
<circle cx="646.9" cy="230.0" r="2.9"/>
<circle cx="646.9" cy="230.0" r="2.9"/>
<circle cx="652.2" cy="185.5" r="2.9"/>
<circle cx="652.2" cy="185.5" r="2.9"/>
<circle cx="652.2" cy="190.6" r="2.9"/>
<circle cx="652.2" cy="196.4" r="2.9"/>
<circle cx="652.2" cy="206.6" r="2.9"/>
<circle cx="652.2" cy="212.5" r="2.9"/>
<circle cx="652.2" cy="212.5" r="2.9"/>
<circle cx="652.2" cy="218.3" r="2.9"/>
<circle cx="652.2" cy="223.7" r="2.9"/>
<circle cx="657.6" cy="186.2" r="2.9"/>
<circle cx="657.6" cy="195.7" r="2.9"/>
<circle cx="657.6" cy="211.7" r="2.9"/>
<circle cx="657.6" cy="214.7" r="2.9"/>
<circle cx="657.6" cy="214.7" r="2.9"/>
<circle cx="657.6" cy="214.7" r="2.9"/>
<circle cx="657.6" cy="219.0" r="2.9"/>
<circle cx="657.6" cy="219.0" r="2.9"/>
<circle cx="657.6" cy="227.1" r="2.9"/>
<circle cx="657.6" cy="230.7" r="2.9"/>
<circle cx="657.6" cy="230.7" r="2.9"/>
<circle cx="663.0" cy="185.5" r="2.9"/>
<circle cx="663.0" cy="185.5" r="2.9"/>
<circle cx="663.0" cy="185.5" r="2.9"/>
<circle cx="663.0" cy="194.9" r="2.9"/>
<circle cx="663.0" cy="194.9" r="2.9"/>
<circle cx="663.0" cy="208.1" r="2.9"/>
<circle cx="663.0" cy="212.5" r="2.9"/>
<circle cx="663.0" cy="212.5" r="2.9"/>
<circle cx="663.0" cy="212.5" r="2.9"/>
<circle cx="663.0" cy="216.1" r="2.9"/>
<circle cx="663.0" cy="216.1" r="2.9"/>
<circle cx="663.0" cy="216.1" r="2.9"/>
<circle cx="663.0" cy="219.0" r="2.9"/>
<circle cx="663.0" cy="219.0" r="2.9"/>
<circle cx="663.0" cy="219.0" r="2.9"/>
<circle cx="663.0" cy="226.3" r="2.9"/>
<circle cx="663.0" cy="226.3" r="2.9"/>
<circle cx="663.0" cy="230.7" r="2.9"/>
<circle cx="663.0" cy="230.7" r="2.9"/>
<circle cx="668.3" cy="186.2" r="2.9"/>
<circle cx="668.3" cy="186.2" r="2.9"/>
<circle cx="668.3" cy="186.2" r="2.9"/>
<circle cx="668.3" cy="193.5" r="2.9"/>
<circle cx="668.3" cy="193.5" r="2.9"/>
<circle cx="668.3" cy="193.5" r="2.9"/>
<circle cx="668.3" cy="198.6" r="2.9"/>
<circle cx="668.3" cy="198.6" r="2.9"/>
<circle cx="668.3" cy="204.4" r="2.9"/>
<circle cx="668.3" cy="204.4" r="2.9"/>
<circle cx="668.3" cy="204.4" r="2.9"/>
<circle cx="668.3" cy="210.3" r="2.9"/>
<circle cx="668.3" cy="210.3" r="2.9"/>
<circle cx="668.3" cy="218.3" r="2.9"/>
<circle cx="668.3" cy="218.3" r="2.9"/>
<circle cx="668.3" cy="226.3" r="2.9"/>
<circle cx="668.3" cy="230.7" r="2.9"/>
<circle cx="668.3" cy="230.7" r="2.9"/>
<circle cx="410.7" cy="258.0" r="2.9"/>
<circle cx="416.1" cy="232.7" r="2.9"/>
<circle cx="416.1" cy="232.7" r="2.9"/>
<circle cx="416.1" cy="244.8" r="2.9"/>
<circle cx="421.4" cy="234.2" r="2.9"/>
<circle cx="421.4" cy="239.3" r="2.9"/>
<circle cx="421.4" cy="244.0" r="2.9"/>
<circle cx="426.8" cy="232.7" r="2.9"/>
<circle cx="426.8" cy="232.7" r="2.9"/>
<circle cx="426.8" cy="237.1" r="2.9"/>
<circle cx="426.8" cy="242.9" r="2.9"/>
<circle cx="432.2" cy="232.7" r="2.9"/>
<circle cx="432.2" cy="232.7" r="2.9"/>
<circle cx="432.2" cy="232.7" r="2.9"/>
<circle cx="432.2" cy="241.9" r="2.9"/>
<circle cx="432.2" cy="257.6" r="2.9"/>
<circle cx="437.5" cy="235.2" r="2.9"/>
<circle cx="437.5" cy="240.8" r="2.9"/>
<circle cx="437.5" cy="257.6" r="2.9"/>
<circle cx="442.9" cy="238.6" r="2.9"/>
<circle cx="442.9" cy="238.6" r="2.9"/>
<circle cx="442.9" cy="252.4" r="2.9"/>
<circle cx="448.3" cy="244.8" r="2.9"/>
<circle cx="448.3" cy="244.8" r="2.9"/>
<circle cx="448.3" cy="244.8" r="2.9"/>
<circle cx="448.3" cy="251.7" r="2.9"/>
<circle cx="453.6" cy="242.5" r="2.9"/>
<circle cx="453.6" cy="251.0" r="2.9"/>
<circle cx="453.6" cy="253.9" r="2.9"/>
<circle cx="453.6" cy="253.9" r="2.9"/>
<circle cx="459.0" cy="234.2" r="2.9"/>
<circle cx="459.0" cy="243.4" r="2.9"/>
<circle cx="459.0" cy="256.5" r="2.9"/>
<circle cx="464.4" cy="235.7" r="2.9"/>
<circle cx="464.4" cy="241.1" r="2.9"/>
<circle cx="464.4" cy="250.7" r="2.9"/>
<circle cx="464.4" cy="254.6" r="2.9"/>
<circle cx="464.4" cy="254.6" r="2.9"/>
<circle cx="469.8" cy="233.5" r="2.9"/>
<circle cx="469.8" cy="233.5" r="2.9"/>
<circle cx="469.8" cy="237.6" r="2.9"/>
<circle cx="469.8" cy="245.9" r="2.9"/>
<circle cx="469.8" cy="245.9" r="2.9"/>
<circle cx="469.8" cy="248.1" r="2.9"/>
<circle cx="469.8" cy="258.3" r="2.9"/>
<circle cx="475.1" cy="235.7" r="2.9"/>
<circle cx="475.1" cy="240.8" r="2.9"/>
<circle cx="475.1" cy="258.3" r="2.9"/>
<circle cx="480.5" cy="233.5" r="2.9"/>
<circle cx="480.5" cy="233.5" r="2.9"/>
<circle cx="480.5" cy="233.5" r="2.9"/>
<circle cx="480.5" cy="245.1" r="2.9"/>
<circle cx="480.5" cy="259.0" r="2.9"/>
<circle cx="485.9" cy="234.9" r="2.9"/>
<circle cx="485.9" cy="234.9" r="2.9"/>
<circle cx="485.9" cy="239.3" r="2.9"/>
<circle cx="485.9" cy="259.0" r="2.9"/>
<circle cx="491.2" cy="233.5" r="2.9"/>
<circle cx="491.2" cy="238.6" r="2.9"/>
<circle cx="491.2" cy="258.3" r="2.9"/>
<circle cx="496.6" cy="239.3" r="2.9"/>
<circle cx="496.6" cy="239.3" r="2.9"/>
<circle cx="496.6" cy="257.6" r="2.9"/>
<circle cx="496.6" cy="257.6" r="2.9"/>
<circle cx="501.9" cy="238.6" r="2.9"/>
<circle cx="501.9" cy="250.2" r="2.9"/>
<circle cx="501.9" cy="256.8" r="2.9"/>
<circle cx="507.3" cy="233.5" r="2.9"/>
<circle cx="507.3" cy="233.5" r="2.9"/>
<circle cx="507.3" cy="238.6" r="2.9"/>
<circle cx="507.3" cy="238.6" r="2.9"/>
<circle cx="507.3" cy="238.6" r="2.9"/>
<circle cx="507.3" cy="257.1" r="2.9"/>
<circle cx="512.7" cy="238.6" r="2.9"/>
<circle cx="512.7" cy="238.6" r="2.9"/>
<circle cx="512.7" cy="251.0" r="2.9"/>
<circle cx="518.0" cy="232.7" r="2.9"/>
<circle cx="518.0" cy="244.4" r="2.9"/>
<circle cx="518.0" cy="250.2" r="2.9"/>
<circle cx="518.0" cy="250.2" r="2.9"/>
<circle cx="518.0" cy="254.6" r="2.9"/>
<circle cx="523.4" cy="232.7" r="2.9"/>
<circle cx="523.4" cy="243.4" r="2.9"/>
<circle cx="523.4" cy="251.7" r="2.9"/>
<circle cx="523.4" cy="251.7" r="2.9"/>
<circle cx="523.4" cy="251.7" r="2.9"/>
<circle cx="523.4" cy="254.6" r="2.9"/>
<circle cx="528.8" cy="232.7" r="2.9"/>
<circle cx="528.8" cy="246.6" r="2.9"/>
<circle cx="528.8" cy="261.9" r="2.9"/>
<circle cx="534.1" cy="237.8" r="2.9"/>
<circle cx="534.1" cy="255.4" r="2.9"/>
<circle cx="534.1" cy="261.9" r="2.9"/>
<circle cx="539.5" cy="232.7" r="2.9"/>
<circle cx="539.5" cy="232.7" r="2.9"/>
<circle cx="539.5" cy="238.6" r="2.9"/>
<circle cx="539.5" cy="238.6" r="2.9"/>
<circle cx="539.5" cy="248.1" r="2.9"/>
<circle cx="539.5" cy="261.2" r="2.9"/>
<circle cx="544.9" cy="241.1" r="2.9"/>
<circle cx="544.9" cy="252.4" r="2.9"/>
<circle cx="544.9" cy="262.4" r="2.9"/>
<circle cx="550.3" cy="234.2" r="2.9"/>
<circle cx="550.3" cy="234.2" r="2.9"/>
<circle cx="550.3" cy="234.2" r="2.9"/>
<circle cx="550.3" cy="238.6" r="2.9"/>
<circle cx="550.3" cy="238.6" r="2.9"/>
<circle cx="550.3" cy="238.6" r="2.9"/>
<circle cx="550.3" cy="246.6" r="2.9"/>
<circle cx="550.3" cy="258.3" r="2.9"/>
<circle cx="555.6" cy="234.2" r="2.9"/>
<circle cx="555.6" cy="234.2" r="2.9"/>
<circle cx="555.6" cy="234.2" r="2.9"/>
<circle cx="555.6" cy="239.3" r="2.9"/>
<circle cx="555.6" cy="239.3" r="2.9"/>
<circle cx="555.6" cy="239.3" r="2.9"/>
<circle cx="555.6" cy="258.3" r="2.9"/>
<circle cx="561.0" cy="235.7" r="2.9"/>
<circle cx="561.0" cy="248.8" r="2.9"/>
<circle cx="561.0" cy="258.0" r="2.9"/>
<circle cx="566.4" cy="247.3" r="2.9"/>
<circle cx="566.4" cy="247.3" r="2.9"/>
<circle cx="566.4" cy="258.6" r="2.9"/>
<circle cx="571.7" cy="247.3" r="2.9"/>
<circle cx="571.7" cy="247.3" r="2.9"/>
<circle cx="571.7" cy="258.3" r="2.9"/>
<circle cx="571.7" cy="258.3" r="2.9"/>
<circle cx="577.1" cy="240.8" r="2.9"/>
<circle cx="577.1" cy="258.3" r="2.9"/>
<circle cx="577.1" cy="264.1" r="2.9"/>
<circle cx="582.5" cy="234.9" r="2.9"/>
<circle cx="582.5" cy="234.9" r="2.9"/>
<circle cx="582.5" cy="258.3" r="2.9"/>
<circle cx="582.5" cy="258.3" r="2.9"/>
<circle cx="582.5" cy="260.5" r="2.9"/>
<circle cx="587.8" cy="233.5" r="2.9"/>
<circle cx="587.8" cy="255.4" r="2.9"/>
<circle cx="587.8" cy="259.4" r="2.9"/>
<circle cx="593.2" cy="233.5" r="2.9"/>
<circle cx="593.2" cy="244.8" r="2.9"/>
<circle cx="593.2" cy="256.1" r="2.9"/>
<circle cx="593.2" cy="259.0" r="2.9"/>
<circle cx="598.6" cy="233.5" r="2.9"/>
<circle cx="598.6" cy="242.2" r="2.9"/>
<circle cx="598.6" cy="245.9" r="2.9"/>
<circle cx="598.6" cy="245.9" r="2.9"/>
<circle cx="598.6" cy="254.6" r="2.9"/>
<circle cx="598.6" cy="254.6" r="2.9"/>
<circle cx="598.6" cy="254.6" r="2.9"/>
<circle cx="598.6" cy="257.6" r="2.9"/>
<circle cx="603.9" cy="234.2" r="2.9"/>
<circle cx="603.9" cy="238.6" r="2.9"/>
<circle cx="603.9" cy="245.4" r="2.9"/>
<circle cx="603.9" cy="253.6" r="2.9"/>
<circle cx="603.9" cy="253.6" r="2.9"/>
<circle cx="603.9" cy="253.6" r="2.9"/>
<circle cx="603.9" cy="258.0" r="2.9"/>
<circle cx="603.9" cy="258.0" r="2.9"/>
<circle cx="609.3" cy="232.7" r="2.9"/>
<circle cx="609.3" cy="232.7" r="2.9"/>
<circle cx="609.3" cy="251.0" r="2.9"/>
<circle cx="609.3" cy="251.0" r="2.9"/>
<circle cx="609.3" cy="254.6" r="2.9"/>
<circle cx="609.3" cy="254.6" r="2.9"/>
<circle cx="614.7" cy="237.6" r="2.9"/>
<circle cx="614.7" cy="244.4" r="2.9"/>
<circle cx="614.7" cy="247.3" r="2.9"/>
<circle cx="614.7" cy="247.3" r="2.9"/>
<circle cx="614.7" cy="252.4" r="2.9"/>
<circle cx="614.7" cy="252.4" r="2.9"/>
<circle cx="614.7" cy="252.4" r="2.9"/>
<circle cx="620.0" cy="243.4" r="2.9"/>
<circle cx="620.0" cy="250.7" r="2.9"/>
<circle cx="620.0" cy="250.7" r="2.9"/>
<circle cx="620.0" cy="254.6" r="2.9"/>
<circle cx="625.4" cy="240.0" r="2.9"/>
<circle cx="625.4" cy="244.4" r="2.9"/>
<circle cx="625.4" cy="250.2" r="2.9"/>
<circle cx="625.4" cy="250.2" r="2.9"/>
<circle cx="625.4" cy="250.2" r="2.9"/>
<circle cx="625.4" cy="254.6" r="2.9"/>
<circle cx="630.8" cy="238.6" r="2.9"/>
<circle cx="630.8" cy="247.3" r="2.9"/>
<circle cx="630.8" cy="247.3" r="2.9"/>
<circle cx="630.8" cy="247.3" r="2.9"/>
<circle cx="630.8" cy="253.9" r="2.9"/>
<circle cx="630.8" cy="253.9" r="2.9"/>
<circle cx="636.1" cy="234.2" r="2.9"/>
<circle cx="636.1" cy="234.2" r="2.9"/>
<circle cx="636.1" cy="238.6" r="2.9"/>
<circle cx="636.1" cy="238.6" r="2.9"/>
<circle cx="636.1" cy="242.2" r="2.9"/>
<circle cx="636.1" cy="246.6" r="2.9"/>
<circle cx="636.1" cy="246.6" r="2.9"/>
<circle cx="636.1" cy="252.4" r="2.9"/>
<circle cx="641.5" cy="235.7" r="2.9"/>
<circle cx="641.5" cy="235.7" r="2.9"/>
<circle cx="641.5" cy="235.7" r="2.9"/>
<circle cx="641.5" cy="240.8" r="2.9"/>
<circle cx="641.5" cy="240.8" r="2.9"/>
<circle cx="641.5" cy="245.9" r="2.9"/>
<circle cx="641.5" cy="245.9" r="2.9"/>
<circle cx="641.5" cy="245.9" r="2.9"/>
<circle cx="641.5" cy="250.2" r="2.9"/>
<circle cx="641.5" cy="250.2" r="2.9"/>
<circle cx="646.9" cy="232.7" r="2.9"/>
<circle cx="646.9" cy="232.7" r="2.9"/>
<circle cx="646.9" cy="240.0" r="2.9"/>
<circle cx="646.9" cy="240.0" r="2.9"/>
<circle cx="646.9" cy="245.9" r="2.9"/>
<circle cx="646.9" cy="245.9" r="2.9"/>
<circle cx="646.9" cy="245.9" r="2.9"/>
<circle cx="646.9" cy="251.7" r="2.9"/>
<circle cx="652.2" cy="234.9" r="2.9"/>
<circle cx="652.2" cy="234.9" r="2.9"/>
<circle cx="652.2" cy="234.9" r="2.9"/>
<circle cx="652.2" cy="239.3" r="2.9"/>
<circle cx="652.2" cy="239.3" r="2.9"/>
<circle cx="652.2" cy="244.8" r="2.9"/>
<circle cx="652.2" cy="244.8" r="2.9"/>
<circle cx="652.2" cy="244.8" r="2.9"/>
<circle cx="652.2" cy="250.2" r="2.9"/>
<circle cx="652.2" cy="250.2" r="2.9"/>
<circle cx="657.6" cy="234.2" r="2.9"/>
<circle cx="657.6" cy="234.2" r="2.9"/>
<circle cx="657.6" cy="234.2" r="2.9"/>
<circle cx="657.6" cy="237.8" r="2.9"/>
<circle cx="657.6" cy="237.8" r="2.9"/>
<circle cx="657.6" cy="244.8" r="2.9"/>
<circle cx="657.6" cy="244.8" r="2.9"/>
<circle cx="657.6" cy="251.0" r="2.9"/>
<circle cx="663.0" cy="233.5" r="2.9"/>
<circle cx="663.0" cy="233.5" r="2.9"/>
<circle cx="663.0" cy="237.8" r="2.9"/>
<circle cx="663.0" cy="237.8" r="2.9"/>
<circle cx="663.0" cy="237.8" r="2.9"/>
<circle cx="663.0" cy="256.1" r="2.9"/>
<circle cx="663.0" cy="256.1" r="2.9"/>
<circle cx="668.3" cy="232.7" r="2.9"/>
<circle cx="668.3" cy="232.7" r="2.9"/>
<circle cx="668.3" cy="232.7" r="2.9"/>
<circle cx="668.3" cy="249.5" r="2.9"/>
<circle cx="668.3" cy="257.6" r="2.9"/>
<circle cx="668.3" cy="257.6" r="2.9"/>
<circle cx="432.2" cy="92.0" r="2.9"/>
<circle cx="442.9" cy="76.2" r="2.9"/>
<circle cx="448.3" cy="71.2" r="2.9"/>
<circle cx="453.6" cy="66.6" r="2.9"/>
<circle cx="459.0" cy="64.8" r="2.9"/>
<circle cx="614.7" cy="69.9" r="2.9"/>
<circle cx="636.1" cy="81.0" r="2.9"/>
<circle cx="421.4" cy="122.5" r="2.9"/>
<circle cx="426.8" cy="101.8" r="2.9"/>
<circle cx="657.6" cy="111.8" r="2.9"/>
<circle cx="668.3" cy="147.8" r="2.9"/>
<circle cx="491.2" cy="58.3" r="2.9"/>
<circle cx="496.6" cy="58.1" r="2.9"/>
<circle cx="507.3" cy="58.0" r="2.9"/>
<circle cx="566.4" cy="58.6" r="2.9"/>
<circle cx="566.4" cy="58.6" r="2.9"/>
<circle cx="593.2" cy="60.0" r="2.9"/>
</g>
<polyline points="410.7,167.0 416.1,145.5 421.4,123.0 426.8,102.2 432.2,92.7 437.5,84.0 442.9,77.0 448.3,72.0 453.6,67.4 459.0,65.6 485.9,59.3 491.2,58.3 496.6,58.1 507.3,58.0 566.4,58.7 593.2,60.4 614.7,70.7 636.1,81.9 641.5,90.2 646.9,97.5 652.2,104.8 657.6,112.1 663.0,130.5 668.3,148.5" fill="none" stroke="#ff0000" stroke-width="4" stroke-linejoin="round" stroke-linecap="butt"/>
<g fill="#ff0000">
</g>
<line x1="512.69" x2="512.69" y1="15.7" y2="296.0" stroke="#008000" stroke-width="3"/>
<line x1="577.10" x2="577.10" y1="15.7" y2="296.0" stroke="#0000ff" stroke-width="3"/>
<text x="510.19" y="290.2" font-size="11.2" fill="#008000" text-anchor="end">Terra</text>
<text x="581.60" y="290.2" font-size="11.2" fill="#0000ff">Aqua</text>
<rect x="394.6" y="15.7" width="289.84" height="280.3" fill="none" stroke="#000" stroke-width="1"/>
<line x1="394.60" x2="394.60" y1="296.0" y2="300.8" stroke="#000" stroke-width="1"/>
<text x="394.60" y="312.9" font-size="10" text-anchor="middle">5.0</text>
<line x1="448.28" x2="448.28" y1="296.0" y2="300.8" stroke="#000" stroke-width="1"/>
<text x="448.28" y="312.9" font-size="10" text-anchor="middle">7.5</text>
<line x1="501.95" x2="501.95" y1="296.0" y2="300.8" stroke="#000" stroke-width="1"/>
<text x="501.95" y="312.9" font-size="10" text-anchor="middle">10.0</text>
<line x1="555.62" x2="555.62" y1="296.0" y2="300.8" stroke="#000" stroke-width="1"/>
<text x="555.62" y="312.9" font-size="10" text-anchor="middle">12.5</text>
<line x1="609.30" x2="609.30" y1="296.0" y2="300.8" stroke="#000" stroke-width="1"/>
<text x="609.30" y="312.9" font-size="10" text-anchor="middle">15.0</text>
<line x1="662.98" x2="662.98" y1="296.0" y2="300.8" stroke="#000" stroke-width="1"/>
<text x="662.98" y="312.9" font-size="10" text-anchor="middle">17.5</text>
<line x1="389.40000000000003" x2="394.6" y1="268.00" y2="268.00" stroke="#000" stroke-width="1"/>
<text x="384.90" y="271.80" font-size="10" text-anchor="end">0.0</text>
<line x1="389.40000000000003" x2="394.6" y1="211.94" y2="211.94" stroke="#000" stroke-width="1"/>
<text x="384.90" y="215.74" font-size="10" text-anchor="end">0.2</text>
<line x1="389.40000000000003" x2="394.6" y1="155.88" y2="155.88" stroke="#000" stroke-width="1"/>
<text x="384.90" y="159.68" font-size="10" text-anchor="end">0.4</text>
<line x1="389.40000000000003" x2="394.6" y1="99.82" y2="99.82" stroke="#000" stroke-width="1"/>
<text x="384.90" y="103.62" font-size="10" text-anchor="end">0.6</text>
<line x1="389.40000000000003" x2="394.6" y1="43.76" y2="43.76" stroke="#000" stroke-width="1"/>
<text x="384.90" y="47.56" font-size="10" text-anchor="end">0.8</text>
<text x="539.52" y="8.8" font-size="11.3" text-anchor="middle">September, 2018</text>
<text x="539.52" y="328.1" font-size="10" text-anchor="middle">local time (UTC-4)</text>
<text transform="translate(361.90,155.8) rotate(-90)" font-size="10" text-anchor="middle">ABI NDVI</text>
<text x="359.6" y="10.1" font-size="12" font-weight="bold" font-family="'Liberation Sans', Arial, sans-serif">b</text>
</svg>
</body></html>
